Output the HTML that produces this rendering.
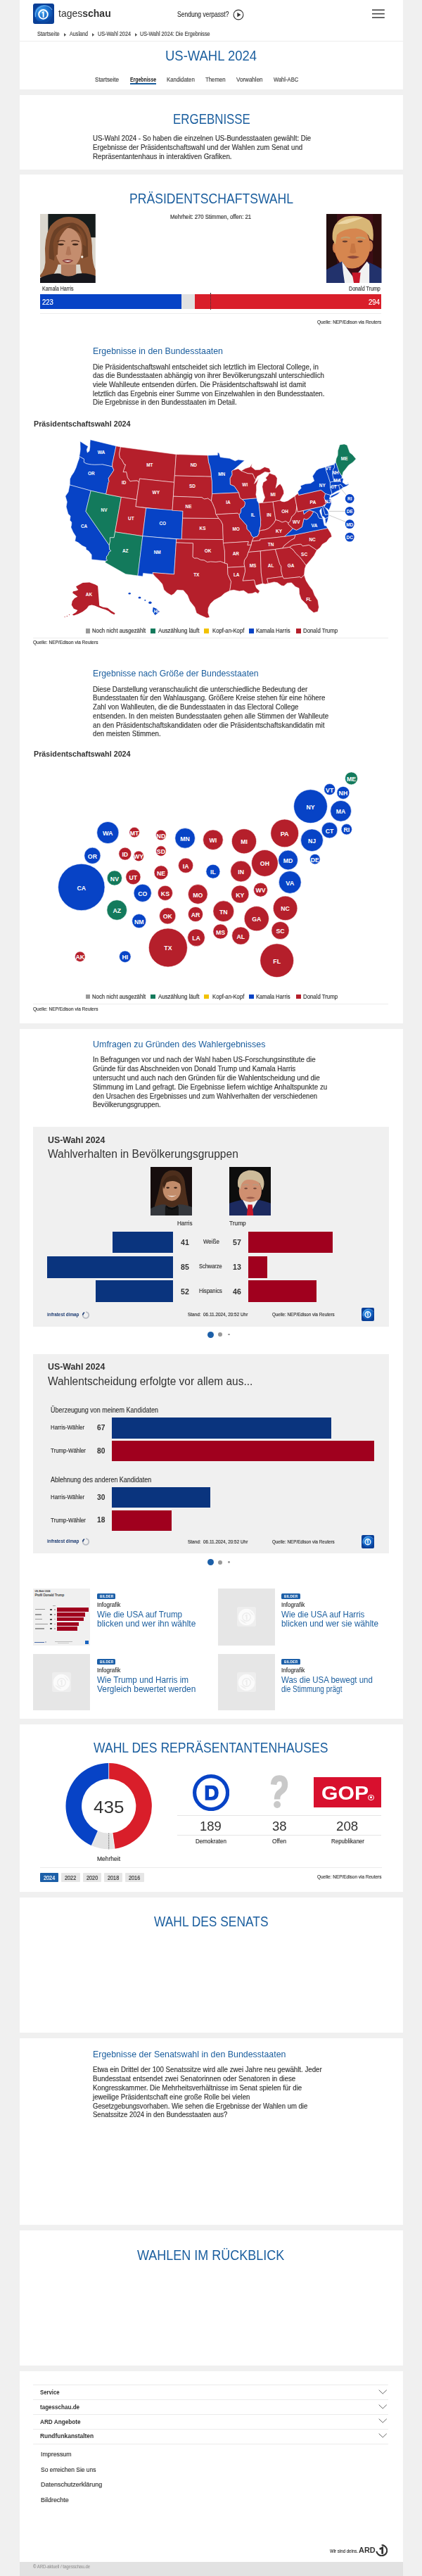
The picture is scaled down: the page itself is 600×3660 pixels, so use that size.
<!DOCTYPE html>
<html><head><meta charset="utf-8">
<style>
*{box-sizing:border-box;margin:0;padding:0}
html,body{width:600px;height:3660px;overflow:hidden;background:#f0f0f0;font-family:"Liberation Sans",sans-serif;color:#333}
.a{position:absolute}
.card{position:absolute;left:27.5px;width:545px;background:#fff}
.t{position:absolute;white-space:nowrap;-webkit-text-stroke:0.16px currentColor}
.blue{color:#1b5e9e}
.h2{font-size:19px;color:#1b5e9e;letter-spacing:0.2px}
.body{font-size:9.4px;line-height:12.6px;color:#333}
.sub{font-size:12.5px;color:#1b5e9e}
</style></head><body>
<!-- HEADER -->
<div class="card" style="top:0;height:126.8px"></div>
<div id="logo" class="a" style="left:47.1px;top:4.7px;width:30px;height:29.7px;border-radius:3px;background:#0a3f96;overflow:hidden">
  <svg width="30" height="30" viewBox="0 0 30 30" style="position:absolute;left:0;top:0">
    <defs><radialGradient id="lg" cx="0.4" cy="0.35" r="0.7"><stop offset="0" stop-color="#45a6f0"></stop><stop offset="0.6" stop-color="#1466c8"></stop><stop offset="1" stop-color="#0a3f96"></stop></radialGradient></defs>
    <circle cx="15" cy="15" r="13" fill="url(#lg)"></circle>
    <path d="M3.5 19 Q2 8 12 4 Q22 1 27 9" stroke="#8fd0ff" stroke-width="1.2" fill="none" opacity="0.7"></path>
    <path d="M6 25 Q17 28 25 19" stroke="#0a3f96" stroke-width="1.5" fill="none" opacity="0.6"></path>
    <circle cx="14.5" cy="15.4" r="6.3" fill="none" stroke="#fff" stroke-width="2"></circle>
    <path d="M12.6 12.3 L15.6 10.8 L15.6 19.8 L13.7 19.8 L13.7 13.6 L12.6 14.1 Z" fill="#fff"></path>
  </svg>
</div>
<div class="t" style="-webkit-text-stroke: 0px; left: 82.8px; font-size: 15px; color: rgb(51, 51, 51); top: 10.4px; transform: scaleX(0.933); transform-origin: 0px 0px;">tages<b>schau</b></div>
<div class="t" style="left: 251.9px; font-size: 10px; color: rgb(51, 51, 51); top: 14.8px; transform: scaleX(0.8518); transform-origin: 0px 0px;">Sendung verpasst?</div>
<svg class="a" style="left:330.5px;top:12.5px" width="16" height="16" viewBox="0 0 16 16"><circle cx="8" cy="8" r="6.9" fill="none" stroke="#333" stroke-width="1.1"></circle><path d="M6.3 4.7 L11.5 8 L6.3 11.3 Z" fill="#333"></path></svg>
<svg class="a" style="left:529px;top:13px" width="18" height="13" viewBox="0 0 18 13"><rect x="0" y="0.4" width="17.8" height="1.6" fill="#444"></rect><rect x="0" y="5.8" width="17.8" height="1.6" fill="#444"></rect><rect x="0" y="11.1" width="17.8" height="1.6" fill="#444"></rect></svg>
<div class="t" style="left: 53.4px; font-size: 8.25px; color: rgb(68, 68, 68); top: 44.4px; transform: scaleX(0.9094); transform-origin: 0px 0px;">Startseite</div>
<div class="t" style="left: 98.9px; font-size: 8.25px; color: rgb(68, 68, 68); top: 44.4px; transform: scaleX(0.8717); transform-origin: 0px 0px;">Ausland</div>
<div class="t" style="left: 138.5px; font-size: 8.25px; color: rgb(68, 68, 68); top: 44.4px; transform: scaleX(0.8811); transform-origin: 0px 0px;">US-Wahl 2024</div>
<div class="t" style="left: 198.6px; font-size: 8.25px; color: rgb(68, 68, 68); top: 44.4px; transform: scaleX(0.8746); transform-origin: 0px 0px;">US-Wahl 2024: Die Ergebnisse</div>
<svg class="a" style="left:90.8px;top:46.5px" width="4" height="5"><path d="M0 0 L3.2 2.4 L0 4.8Z" fill="#555"></path></svg>
<svg class="a" style="left:131px;top:46.5px" width="4" height="5"><path d="M0 0 L3.2 2.4 L0 4.8Z" fill="#555"></path></svg>
<svg class="a" style="left:192px;top:46.5px" width="4" height="5"><path d="M0 0 L3.2 2.4 L0 4.8Z" fill="#555"></path></svg>
<div class="a" style="left:27.5px;top:58px;width:545px;height:1px;background:#ededed"></div>
<div class="t" style="-webkit-text-stroke: 0px; left: 235.2px; font-size: 19.8px; color: rgb(27, 94, 158); top: 67.8px; transform: scaleX(0.9335); transform-origin: 0px 0px;">US-WAHL 2024</div>
<div class="t" style="left: 135.2px; font-size: 8.58px; color: rgb(68, 68, 68); top: 108px; transform: scaleX(0.9407); transform-origin: 0px 0px;">Startseite</div>
<div class="t" style="-webkit-text-stroke: 0px; left: 184.5px; font-size: 8.19px; color: rgb(34, 34, 34); font-weight: bold; top: 109px; transform: scaleX(0.842); transform-origin: 0px 0px;">Ergebnisse</div>
<div class="a" style="left:184.5px;top:118px;width:37.1px;height:1.6px;background:#1b5e9e"></div>
<div class="t" style="left: 236.8px; font-size: 8.58px; color: rgb(68, 68, 68); top: 108px; transform: scaleX(0.9169); transform-origin: 0px 0px;">Kandidaten</div>
<div class="t" style="left: 292px; font-size: 8.58px; color: rgb(68, 68, 68); top: 108px; transform: scaleX(0.9088); transform-origin: 0px 0px;">Themen</div>
<div class="t" style="left: 335.7px; font-size: 8.58px; color: rgb(68, 68, 68); top: 108px; transform: scaleX(0.9385); transform-origin: 0px 0px;">Vorwahlen</div>
<div class="t" style="left: 388.8px; font-size: 8.58px; color: rgb(68, 68, 68); top: 108px; transform: scaleX(0.8859); transform-origin: 0px 0px;">Wahl-ABC</div>

<!-- CARD 1 -->
<div class="card" style="top:134.9px;height:105.7px"></div>
<div class="t" style="-webkit-text-stroke: 0px; left: 245.6px; font-size: 20.8px; color: rgb(27, 94, 158); top: 157px; transform: scaleX(0.8127); transform-origin: 0px 0px;">ERGEBNISSE</div>
<div class="t" style="left: 131.8px; font-size: 10.2px; top: 191px; transform: scaleX(0.9438); transform-origin: 0px 0px;">US-Wahl 2024 - So haben die einzelnen US-Bundesstaaten gewählt: Die</div>
<div class="t" style="left: 131.8px; font-size: 10.2px; top: 203.8px; transform: scaleX(0.9516); transform-origin: 0px 0px;">Ergebnisse der Präsidentschaftswahl und der Wahlen zum Senat und</div>
<div class="t" style="left: 131.8px; font-size: 10.2px; top: 216.5px; transform: scaleX(0.9666); transform-origin: 0px 0px;">Repräsentantenhaus in interaktiven Grafiken.</div>

<!-- CARD 2 -->
<div class="card" style="top:248.4px;height:1205.4px"></div>
<div class="t" style="-webkit-text-stroke: 0px; left: 183.9px; font-size: 20.1px; color: rgb(27, 94, 158); top: 270.6px; transform: scaleX(0.876); transform-origin: 0px 0px;">PRÄSIDENTSCHAFTSWAHL</div>
<div class="t" style="left: 242.4px; font-size: 8.47px; color: rgb(51, 51, 51); top: 302.8px; transform: scaleX(0.921); transform-origin: 0px 0px;">Mehrheit: 270 Stimmen, offen: 21</div>
<svg class="a" style="left:57.1px;top:303.6px" width="78.8" height="98.4" viewBox="60 48 277 345" preserveAspectRatio="none">
 <defs><filter id="bl1" x="-5%" y="-5%" width="110%" height="110%"><feGaussianBlur stdDeviation="2.5"></feGaussianBlur></filter><clipPath id="cp1"><rect x="60" y="48" width="277" height="345"></rect></clipPath></defs>
 <g clip-path="url(#cp1)" filter="url(#bl1)">
 <rect x="40" y="30" width="320" height="380" fill="#dbd7ce"></rect>
 <rect x="100" y="30" width="260" height="135" fill="#151d1a"></rect>
 <path d="M110 110 Q150 62 205 62 Q272 66 302 120 Q322 170 320 240 Q322 300 340 335 L340 400 L298 400 Q262 350 260 300 L150 300 Q140 350 95 375 L55 360 Q92 322 86 262 Q78 172 110 110Z" fill="#8c5636"></path>
 <path d="M130 130 Q170 88 225 92 Q282 105 298 175 L300 260 L275 270 L270 160 Q240 120 190 122 Q150 135 140 200 L130 280 L105 270 Q100 180 130 130Z" fill="#6b3f26"></path>
 <ellipse cx="202" cy="218" rx="66" ry="100" fill="#c48d6e"></ellipse>
 <path d="M125 200 Q135 120 215 102 Q178 128 160 165 Q148 195 148 250 L130 260Z" fill="#7c4a2c"></path>
 <path d="M238 105 Q290 130 290 210 L272 200 Q268 140 238 105Z" fill="#7c4a2c"></path>
 <ellipse cx="164" cy="200" rx="15" ry="5" fill="#3a2418"></ellipse><ellipse cx="236" cy="200" rx="15" ry="5" fill="#3a2418"></ellipse>
 <path d="M146 186 Q165 175 185 184 M216 184 Q236 175 256 186" stroke="#5a3422" stroke-width="5" fill="none"></path>
 <path d="M196 210 L188 250 Q202 258 216 250 L208 210Z" fill="#b07658"></path>
 <path d="M170 280 Q198 266 226 280 Q198 305 170 280Z" fill="#8a3838"></path>
 <path d="M178 282 Q198 276 218 282 Q198 290 178 282Z" fill="#efe2da"></path>
 <circle cx="270" cy="262" r="6" fill="#f4efe6"></circle>
 <rect x="165" y="300" width="75" height="60" fill="#b37c5f"></rect>
 <path d="M50 400 L50 372 Q108 340 160 345 Q202 372 245 345 Q300 338 345 360 L345 400Z" fill="#18181a"></path>
 </g>
</svg>
<svg class="a" style="left:464.1px;top:303.6px" width="78.5" height="98.4" viewBox="67 48 276 345" preserveAspectRatio="none">
 <defs><filter id="bl2" x="-5%" y="-5%" width="110%" height="110%"><feGaussianBlur stdDeviation="2.5"></feGaussianBlur></filter><clipPath id="cp2"><rect x="67" y="48" width="276" height="345"></rect></clipPath></defs>
 <g clip-path="url(#cp2)" filter="url(#bl2)">
 <rect x="50" y="30" width="310" height="380" fill="#3c0c15"></rect>
 <rect x="50" y="30" width="70" height="380" fill="#23070b"></rect>
 <rect x="300" y="30" width="60" height="380" fill="#2e0a10"></rect>
 <ellipse cx="112" cy="215" rx="14" ry="28" fill="#c77a4c"></ellipse><ellipse cx="286" cy="208" rx="14" ry="28" fill="#c77a4c"></ellipse>
 <ellipse cx="196" cy="208" rx="90" ry="112" fill="#d6864f"></ellipse>
 <path d="M98 175 Q90 92 160 62 Q232 48 282 80 Q308 112 300 182 L284 172 Q272 128 216 120 Q150 120 120 152 L112 200Z" fill="#d8b676"></path>
 <path d="M120 100 Q165 64 250 66 Q210 84 170 96Z" fill="#ecd6a4"></path>
 <path d="M140 170 Q160 160 185 168 M215 168 Q240 160 262 172" stroke="#bfa070" stroke-width="8" fill="none"></path>
 <ellipse cx="160" cy="185" rx="13" ry="5" fill="#6b4030"></ellipse><ellipse cx="236" cy="185" rx="13" ry="5" fill="#6b4030"></ellipse>
 <path d="M192 195 L184 240 Q200 250 216 240 L208 195Z" fill="#c67443"></path>
 <path d="M170 262 Q200 250 232 262 Q200 280 170 262Z" fill="#8e4a3a"></path>
 <path d="M50 400 L50 335 Q105 305 145 285 L205 365 L270 285 Q312 302 360 330 L360 400Z" fill="#22306c"></path>
 <path d="M145 285 L205 368 L270 285 L282 300 L282 400 L160 400 Q150 340 145 285Z" fill="#f1f1f1"></path>
 <path d="M195 340 L238 340 L232 395 L205 395Z" fill="#c8162c"></path>
 </g>
</svg>
<div class="t" style="left: 59.5px; font-size: 8.8px; color: rgb(51, 51, 51); top: 404.8px; transform: scaleX(0.7984); transform-origin: 0px 0px;">Kamala Harris</div>
<div class="t" style="left: 495.7px; font-size: 8.8px; color: rgb(51, 51, 51); top: 404.8px; transform: scaleX(0.8106); transform-origin: 0px 0px;">Donald Trump</div>
<div class="a" style="left:57.1px;top:418.2px;width:201.3px;height:21.3px;background:#0743c6"></div>
<div class="a" style="left:258.4px;top:418.2px;width:18.5px;height:21.3px;background:#e1e1e1"></div>
<div class="a" style="left:276.9px;top:418.2px;width:265.5px;height:21.3px;background:#d91e2a"></div>
<div class="a" style="left:299px;top:416px;width:0;height:23.5px;border-left:1px dotted #333"></div>
<div class="t" style="left: 59.5px; font-size: 11px; color: rgb(255, 255, 255); top: 422.9px; transform: scaleX(0.866); transform-origin: 0px 0px;">223</div>
<div class="t" style="left: 523.5px; font-size: 11px; color: rgb(255, 255, 255); top: 422.9px; transform: scaleX(0.8769); transform-origin: 0px 0px;">294</div>
<div class="a" style="left:57.1px;top:445px;width:485.3px;height:1px;background:#ececec"></div>
<div class="t" style="left: 451.2px; font-size: 8.03px; color: rgb(51, 51, 51); top: 452.5px; transform: scaleX(0.8028); transform-origin: 0px 0px;">Quelle: NEP/Edison via Reuters</div>

<div class="t" style="-webkit-text-stroke: 0px; left: 132.2px; font-size: 12.9px; color: rgb(27, 94, 158); top: 491.2px; transform: scaleX(0.9596); transform-origin: 0px 0px;">Ergebnisse in den Bundesstaaten</div>
<div class="t" style="left: 132.1px; font-size: 10.2px; top: 515.6px; transform: scaleX(0.9608); transform-origin: 0px 0px;">Die Präsidentschaftswahl entscheidet sich letztlich im Electoral College, in</div>
<div class="t" style="left: 132.1px; font-size: 10.2px; top: 528.3px; transform: scaleX(0.9539); transform-origin: 0px 0px;">das die Bundesstaaten abhängig von ihrer Bevölkerungszahl unterschiedlich</div>
<div class="t" style="left: 132.1px; font-size: 10.2px; top: 541px; transform: scaleX(0.9723); transform-origin: 0px 0px;">viele Wahlleute entsenden dürfen. Die Präsidentschaftswahl ist damit</div>
<div class="t" style="left: 132.1px; font-size: 10.2px; top: 553.7px; transform: scaleX(0.952); transform-origin: 0px 0px;">letztlich das Ergebnis einer Summe von Einzelwahlen in den Bundesstaaten.</div>
<div class="t" style="left: 132.1px; font-size: 10.2px; top: 566.4px; transform: scaleX(0.9487); transform-origin: 0px 0px;">Die Ergebnisse in den Bundesstaaten im Detail.</div>
<div class="t" style="-webkit-text-stroke: 0px; left: 47.6px; font-size: 11.7px; font-weight: bold; color: rgb(51, 51, 51); top: 594.9px; transform: scaleX(0.9209); transform-origin: 0px 0px;">Präsidentschaftswahl 2024</div>
<svg class="a" style="left:0;top:600px" width="600" height="300" viewBox="0 600 600 300"><g stroke="#fff" stroke-width="0.55" stroke-linejoin="round"><path d="M113.9 626.9 L120.5 631.3 L125.3 634.2 L123.3 638.8 L124.2 643.1 L127.0 640.8 L127.9 634.9 L127.9 629.7 L128.3 624.7 L165.1 633.7 L159.8 658.7 L159.7 663.0 L145.7 659.9 L143.4 660.1 L134.7 660.3 L129.7 660.1 L122.8 658.8 L119.3 656.8 L119.5 652.2 L117.0 650.9 L112.7 648.4 L113.8 642.2 L114.2 638.2 L114.0 631.9Z" fill="#0743c6"></path>
<path d="M112.7 648.4 L117.0 650.9 L119.5 652.2 L119.3 656.8 L122.8 658.8 L129.7 660.1 L134.7 660.3 L143.4 660.1 L145.7 659.9 L159.7 663.0 L161.9 667.9 L157.4 674.8 L154.2 679.3 L155.1 684.6 L154.1 685.6 L150.7 702.1 L129.2 697.2 L99.2 689.0 L99.4 680.7 L101.5 676.1 L105.0 670.9 L108.0 664.5 L110.8 655.9 L112.6 651.2Z" fill="#0743c6"></path>
<path d="M99.2 689.0 L129.2 697.2 L122.0 726.5 L155.3 774.7 L155.4 776.8 L155.7 780.9 L158.0 782.6 L155.3 784.1 L153.6 788.6 L151.7 790.3 L151.1 794.3 L152.7 796.1 L150.4 797.0 L130.2 794.9 L130.1 788.1 L126.1 783.1 L122.4 780.7 L122.2 777.8 L116.8 775.3 L111.1 770.8 L106.6 768.7 L107.8 762.2 L103.9 756.1 L100.8 749.0 L101.6 746.1 L101.8 742.0 L99.3 739.2 L100.1 733.2 L96.9 730.2 L94.1 720.0 L95.3 713.1 L92.9 705.0 L97.1 698.9 L98.4 692.0Z" fill="#0743c6"></path>
<path d="M129.2 697.2 L150.7 702.1 L172.4 706.3 L162.1 763.8 L156.4 763.9 L156.6 768.8 L155.3 774.7 L122.0 726.5Z" fill="#137a5c"></path>
<path d="M165.1 633.7 L171.5 635.0 L169.5 644.9 L170.6 650.8 L173.1 652.9 L176.7 659.8 L178.6 660.1 L175.1 670.6 L179.7 670.5 L181.5 678.7 L185.1 683.8 L188.7 683.1 L195.1 682.8 L197.8 685.2 L194.2 709.8 L172.4 706.3 L150.7 702.1 L154.1 685.6 L155.1 684.6 L154.2 679.3 L157.4 674.8 L161.9 667.9 L159.7 663.0 L159.8 658.7Z" fill="#b51f2b"></path>
<path d="M171.5 635.0 L250.4 645.5 L247.7 685.3 L198.5 680.1 L197.8 685.2 L195.1 682.8 L188.7 683.1 L185.1 683.8 L181.5 678.7 L179.7 670.5 L175.1 670.6 L178.6 660.1 L176.7 659.8 L173.1 652.9 L170.6 650.8 L169.5 644.9Z" fill="#b51f2b"></path>
<path d="M198.5 680.1 L247.7 685.3 L245.0 725.3 L192.8 719.8Z" fill="#b51f2b"></path>
<path d="M172.4 706.3 L194.2 709.8 L192.8 719.8 L207.7 721.8 L202.8 761.7 L163.6 755.8Z" fill="#b51f2b"></path>
<path d="M207.7 721.8 L260.0 726.1 L258.2 766.3 L202.8 761.7Z" fill="#0743c6"></path>
<path d="M163.6 755.8 L202.8 761.7 L195.9 818.0 L178.7 815.7 L149.3 799.1 L150.4 797.0 L152.7 796.1 L151.1 794.3 L151.7 790.3 L153.6 788.6 L155.3 784.1 L158.0 782.6 L155.7 780.9 L155.4 776.8 L155.3 774.7 L156.6 768.8 L156.4 763.9 L162.1 763.8Z" fill="#137a5c"></path>
<path d="M202.8 761.7 L250.7 765.9 L250.4 770.9 L247.6 815.9 L217.2 813.6 L217.8 815.9 L203.6 814.4 L203.0 818.9 L195.9 818.0Z" fill="#0743c6"></path>
<path d="M250.4 645.5 L295.6 646.9 L296.6 656.8 L298.3 661.7 L300.1 670.7 L300.5 677.2 L248.3 675.9Z" fill="#b51f2b"></path>
<path d="M248.3 675.9 L300.5 677.2 L301.4 683.6 L301.7 701.6 L300.5 711.7 L295.6 708.1 L290.4 709.1 L286.8 706.7 L246.4 705.2Z" fill="#b51f2b"></path>
<path d="M246.4 705.2 L286.8 706.7 L290.4 709.1 L295.6 708.1 L300.5 711.7 L302.6 715.7 L304.6 720.7 L306.2 724.6 L306.6 729.7 L307.3 730.9 L311.0 736.6 L259.6 736.2 L260.0 726.1 L245.0 725.3Z" fill="#b51f2b"></path>
<path d="M259.6 736.2 L311.0 736.6 L313.8 739.5 L316.6 745.0 L317.3 766.6 L258.2 766.3Z" fill="#b51f2b"></path>
<path d="M250.7 765.9 L317.3 766.6 L319.4 782.6 L319.6 800.2 L313.6 797.8 L307.0 798.5 L299.5 798.1 L294.5 798.6 L290.4 796.1 L285.4 795.6 L280.5 793.1 L276.4 793.2 L273.9 791.3 L274.4 771.9 L250.4 770.9Z" fill="#b51f2b"></path>
<path d="M217.2 813.6 L247.6 815.9 L250.4 770.9 L274.4 771.9 L273.9 791.3 L276.4 793.2 L280.5 793.1 L285.4 795.6 L290.4 796.1 L294.5 798.6 L299.5 798.1 L307.0 798.5 L313.6 797.8 L319.6 800.2 L323.3 801.0 L323.6 806.3 L324.0 816.4 L326.3 821.3 L328.6 826.2 L327.7 833.2 L326.7 839.2 L319.3 843.0 L314.2 847.6 L304.5 852.8 L299.3 857.8 L296.2 863.8 L295.8 870.7 L298.1 877.1 L294.0 878.1 L284.8 874.1 L279.4 871.1 L276.8 862.7 L269.9 854.1 L266.5 845.6 L260.6 838.8 L251.9 838.3 L247.2 843.8 L243.6 845.8 L237.6 842.2 L233.1 837.9 L230.7 829.8 L225.1 823.4 L220.3 818.9 L217.8 815.9Z" fill="#b51f2b"></path>
<path d="M295.6 646.9 L309.4 646.6 L309.3 642.9 L311.5 643.6 L313.2 649.5 L320.6 650.6 L326.6 651.3 L334.3 654.8 L338.9 653.0 L347.7 654.2 L331.7 667.9 L329.8 669.0 L330.1 674.5 L327.2 679.7 L327.4 688.2 L333.2 690.8 L339.5 699.9 L301.7 701.6 L301.4 683.6 L300.5 677.2 L300.1 670.7 L298.3 661.7 L296.6 656.8Z" fill="#0743c6"></path>
<path d="M301.7 701.6 L339.5 699.9 L341.3 707.4 L344.4 709.5 L348.3 713.3 L348.4 716.4 L347.1 720.0 L342.8 722.9 L342.4 727.9 L340.2 731.3 L338.0 729.2 L307.3 730.9 L306.6 729.7 L306.2 724.6 L304.6 720.7 L302.6 715.7 L300.5 711.7Z" fill="#b51f2b"></path>
<path d="M307.3 730.9 L338.0 729.2 L340.2 731.3 L340.7 735.1 L344.0 738.9 L347.4 742.7 L350.8 746.4 L351.2 751.4 L356.4 757.0 L357.6 761.0 L360.6 763.7 L358.3 769.0 L357.2 774.1 L351.8 774.6 L353.2 769.4 L317.4 771.6 L317.3 766.6 L316.6 745.0 L313.8 739.5 L311.0 736.6Z" fill="#b51f2b"></path>
<path d="M344.4 709.5 L365.2 707.7 L365.7 711.6 L368.1 715.4 L370.8 738.9 L370.5 741.4 L370.7 746.5 L368.5 754.8 L368.4 757.9 L366.1 762.1 L360.6 763.7 L357.6 761.0 L356.4 757.0 L351.2 751.4 L350.8 746.4 L347.4 742.7 L344.0 738.9 L340.7 735.1 L340.2 731.3 L342.4 727.9 L342.8 722.9 L347.1 720.0 L348.4 716.4 L348.3 713.3Z" fill="#0743c6"></path>
<path d="M368.0 714.8 L388.1 712.8 L391.9 738.7 L389.5 743.1 L384.7 748.3 L381.8 750.7 L376.6 752.9 L371.9 753.4 L368.5 754.8 L370.7 746.5 L370.5 741.4 L370.8 738.9Z" fill="#b51f2b"></path>
<path d="M388.1 712.8 L398.1 711.0 L400.9 712.4 L404.1 712.9 L409.1 711.5 L413.2 708.7 L419.1 704.8 L421.6 718.0 L421.6 721.5 L420.9 727.7 L417.4 732.0 L415.0 733.9 L412.6 740.5 L409.9 743.0 L406.3 740.5 L401.1 742.1 L396.0 739.6 L391.9 738.7Z" fill="#b51f2b"></path>
<path d="M358.3 769.0 L369.9 767.8 L369.7 766.0 L393.9 763.5 L404.5 762.2 L409.9 757.3 L414.1 753.5 L416.2 750.7 L410.3 745.3 L409.9 743.0 L406.3 740.5 L401.1 742.1 L396.0 739.6 L391.9 738.7 L389.5 743.1 L384.7 748.3 L381.8 750.7 L376.6 752.9 L371.9 753.4 L368.5 754.8 L368.4 757.9 L366.1 762.1 L360.6 763.7Z" fill="#b51f2b"></path>
<path d="M353.1 784.5 L370.3 782.9 L391.4 780.4 L401.7 778.9 L403.8 775.5 L407.5 772.4 L414.0 767.3 L418.5 765.0 L420.2 759.7 L404.5 762.2 L393.9 763.5 L369.7 766.0 L369.9 767.8 L358.3 769.0 L357.2 774.1 L355.5 778.3Z" fill="#b51f2b"></path>
<path d="M317.4 771.6 L353.2 769.4 L351.8 774.6 L357.2 774.1 L355.5 778.3 L353.1 784.5 L351.2 790.7 L347.5 796.0 L347.1 801.1 L347.8 805.0 L323.6 806.3 L323.3 801.0 L319.6 800.2 L319.4 782.6Z" fill="#b51f2b"></path>
<path d="M370.3 782.9 L353.1 784.5 L351.2 790.7 L347.5 796.0 L347.1 801.1 L347.8 805.0 L348.6 811.0 L346.7 819.1 L345.0 825.3 L361.4 824.0 L363.3 832.0 L373.5 829.0 L371.3 814.0Z" fill="#b51f2b"></path>
<path d="M323.6 806.3 L347.8 805.0 L348.6 811.0 L346.7 819.1 L345.0 825.3 L361.4 824.0 L363.3 832.0 L364.4 835.2 L369.3 839.7 L367.0 843.4 L363.2 841.3 L359.0 843.1 L352.8 843.6 L346.3 839.1 L340.3 840.0 L332.3 838.3 L326.7 839.2 L327.7 833.2 L328.6 826.2 L326.3 821.3 L324.0 816.4Z" fill="#b51f2b"></path>
<path d="M370.3 782.9 L391.4 780.4 L397.8 801.7 L399.7 804.5 L399.9 811.5 L401.8 819.3 L379.7 822.1 L381.3 828.9 L377.1 830.1 L373.5 829.0 L371.3 814.0Z" fill="#b51f2b"></path>
<path d="M391.4 780.4 L401.7 778.9 L411.5 777.3 L416.3 780.6 L420.5 786.0 L426.7 792.0 L432.2 799.1 L435.1 803.2 L433.4 808.0 L432.5 817.1 L428.0 821.2 L426.4 819.7 L403.5 822.1 L401.8 819.3 L399.9 811.5 L399.7 804.5 L397.8 801.7Z" fill="#b51f2b"></path>
<path d="M379.7 822.1 L401.8 819.3 L403.5 822.1 L426.4 819.7 L428.0 821.2 L432.5 817.1 L435.2 824.9 L440.3 833.1 L444.5 838.3 L447.3 845.8 L451.9 853.0 L453.4 862.7 L451.8 869.0 L446.0 870.6 L438.8 864.5 L436.0 859.0 L428.2 851.3 L425.6 843.7 L425.1 835.8 L419.9 833.6 L414.5 827.9 L408.4 828.4 L403.7 832.6 L400.1 832.1 L394.3 827.8 L389.8 826.9 L381.3 828.9Z" fill="#b51f2b"></path>
<path d="M411.5 777.3 L416.9 774.4 L427.9 773.0 L430.4 775.8 L439.4 774.3 L450.5 781.7 L446.5 789.2 L441.8 795.3 L437.6 800.2 L435.1 803.2 L432.2 799.1 L426.7 792.0 L420.5 786.0 L416.3 780.6Z" fill="#b51f2b"></path>
<path d="M401.7 778.9 L411.5 777.3 L416.9 774.4 L427.9 773.0 L430.4 775.8 L439.4 774.3 L450.5 781.7 L455.2 778.1 L458.4 773.3 L464.3 769.8 L468.1 764.8 L471.7 762.4 L470.6 758.0 L465.9 750.4 L420.2 759.7 L418.5 765.0 L414.0 767.3 L407.5 772.4 L403.8 775.5Z" fill="#b51f2b"></path>
<path d="M404.5 762.2 L420.2 759.7 L465.9 750.4 L463.9 747.2 L461.3 746.8 L460.1 741.9 L459.3 737.0 L453.9 736.2 L452.7 734.4 L451.3 730.1 L447.5 727.3 L445.2 726.6 L444.8 728.7 L442.1 733.2 L438.1 737.1 L435.2 738.2 L432.1 736.8 L430.6 743.3 L429.3 748.7 L424.2 751.9 L421.3 753.2 L416.2 750.7 L414.1 753.5 L409.9 757.3Z" fill="#0743c6"></path>
<path d="M466.9 734.8 L462.1 736.8 L463.1 744.8 L465.5 740.6Z" fill="#0743c6"></path>
<path d="M421.6 718.0 L423.3 727.1 L431.2 725.5 L432.2 730.7 L436.1 727.3 L439.9 724.9 L445.2 726.6 L444.8 728.7 L442.1 733.2 L438.1 737.1 L435.2 738.2 L432.1 736.8 L430.6 743.3 L429.3 748.7 L424.2 751.9 L421.3 753.2 L416.2 750.7 L410.3 745.3 L409.9 743.0 L412.6 740.5 L415.0 733.9 L417.4 732.0 L420.9 727.7 L421.6 721.5Z" fill="#b51f2b"></path>
<path d="M431.2 725.5 L458.7 719.3 L462.4 731.5 L467.3 730.3 L466.9 734.8 L462.1 736.8 L460.8 734.6 L458.0 733.2 L457.0 727.2 L456.9 722.0 L454.6 725.7 L455.3 728.6 L457.2 733.3 L459.3 737.0 L453.9 736.2 L452.7 734.4 L451.3 730.1 L447.5 727.3 L445.2 726.6 L439.9 724.9 L436.1 727.3 L432.2 730.7Z" fill="#0743c6"></path>
<path d="M458.7 719.3 L460.5 717.6 L460.8 720.1 L463.4 722.5 L466.5 726.9 L467.3 730.3 L462.4 731.5Z" fill="#0743c6"></path>
<path d="M419.1 704.8 L424.0 700.8 L424.5 703.5 L456.3 696.3 L458.6 697.8 L462.6 701.3 L461.0 707.0 L462.5 711.3 L465.5 713.1 L463.0 716.4 L460.5 717.6 L458.7 719.3 L423.3 727.1 L421.6 718.0Z" fill="#b51f2b"></path>
<path d="M462.6 701.3 L469.4 703.3 L469.3 705.9 L468.1 708.8 L470.3 709.3 L471.1 715.8 L469.3 721.0 L467.3 725.4 L465.8 722.9 L462.2 721.2 L460.8 720.1 L463.0 716.4 L465.5 713.1 L462.5 711.3 L461.0 707.0Z" fill="#0743c6"></path>
<path d="M424.5 703.5 L423.5 698.6 L428.2 693.5 L427.1 690.2 L434.3 687.4 L441.6 686.7 L446.7 683.2 L444.4 676.5 L449.7 668.5 L453.5 666.0 L462.7 663.4 L463.7 668.4 L466.8 676.9 L469.4 685.1 L469.5 692.3 L471.9 700.5 L471.1 702.8 L469.4 703.3 L462.6 701.3 L458.6 697.8 L456.3 696.3Z" fill="#0743c6"></path>
<path d="M469.7 707.4 L472.6 706.6 L480.0 702.4 L484.0 698.5 L478.0 700.9 L470.5 704.5Z" fill="#0743c6"></path>
<path d="M469.5 692.3 L481.6 689.2 L483.3 696.0 L478.7 697.9 L474.7 700.3 L471.1 702.8 L471.9 700.5Z" fill="#0743c6"></path>
<path d="M481.6 689.2 L484.6 688.3 L486.8 691.0 L488.0 692.8 L483.3 696.0Z" fill="#0743c6"></path>
<path d="M469.5 692.3 L469.4 685.1 L475.0 683.7 L483.2 681.6 L486.1 678.9 L488.3 680.6 L487.0 685.2 L491.5 688.5 L495.2 687.9 L493.9 685.1 L495.1 686.4 L495.9 688.7 L492.6 690.8 L488.0 692.8 L486.8 691.0 L484.6 688.3 L481.6 689.2Z" fill="#0743c6"></path>
<path d="M462.7 663.4 L475.2 659.8 L475.7 664.0 L473.5 667.7 L473.0 675.2 L475.0 683.7 L469.4 685.1 L466.8 676.9 L463.7 668.4Z" fill="#0743c6"></path>
<path d="M475.2 659.8 L477.3 656.2 L482.1 670.4 L486.3 676.7 L486.1 678.9 L483.2 681.6 L475.0 683.7 L473.0 675.2 L473.5 667.7 L475.7 664.0Z" fill="#0743c6"></path>
<path d="M477.3 656.2 L478.0 651.8 L480.1 647.0 L480.3 640.6 L483.1 631.9 L489.4 630.9 L493.5 632.4 L497.3 643.1 L501.1 645.9 L506.2 652.0 L501.8 656.7 L495.7 660.9 L490.4 667.8 L487.9 670.7 L486.3 676.7 L482.1 670.4Z" fill="#137a5c"></path>
<path d="M331.7 667.9 L338.5 665.9 L342.9 668.9 L352.2 672.6 L359.3 673.0 L362.1 679.3 L363.7 681.6 L361.5 687.4 L364.7 684.0 L367.8 679.6 L364.6 689.6 L364.7 696.6 L363.9 702.7 L365.2 707.7 L344.4 709.5 L341.3 707.4 L339.5 699.9 L333.2 690.8 L327.4 688.2 L327.2 679.7 L330.1 674.5 L329.8 669.0Z" fill="#b51f2b"></path>
<path d="M373.3 714.2 L388.1 712.8 L398.1 711.0 L400.1 707.4 L403.6 701.2 L403.3 697.2 L401.2 691.5 L398.3 687.4 L395.4 689.4 L392.0 693.5 L393.7 685.6 L394.1 679.4 L391.3 675.3 L382.7 672.1 L381.4 675.3 L377.6 678.9 L379.5 682.1 L374.2 685.4 L372.8 691.6 L374.2 699.5 L376.6 706.8Z" fill="#b51f2b"></path>
<path d="M342.9 668.9 L348.8 665.6 L355.5 663.4 L358.4 658.6 L357.5 663.2 L362.9 667.6 L369.8 667.3 L376.2 663.4 L382.8 665.5 L384.8 669.8 L383.0 671.6 L376.5 670.5 L370.6 674.2 L366.0 676.8 L363.7 681.6 L362.1 679.3 L359.3 673.0 L352.2 672.6Z" fill="#b51f2b"></path></g><path d="M108.1 833.2 L117.7 828.1 L127.3 827.5 L135.9 830.7 L139.1 832.8 L141.2 860.5 L146.5 862.7 L152.9 863.7 L158.2 868.0 L163.6 871.2 L162.5 873.3 L158.2 871.2 L154.0 868.0 L149.7 865.9 L145.4 864.8 L140.1 862.7 L134.8 860.5 L130.5 859.5 L126.3 860.5 L123.1 864.8 L117.7 869.1 L111.3 872.2 L104.9 874.4 L102.8 873.3 L108.1 870.1 L110.3 866.9 L104.9 864.8 L101.7 859.5 L102.8 854.1 L106.0 849.9 L110.3 847.7 L107.1 845.2 L103.2 842.4 L103.9 840.3 L108.1 839.6 L111.3 838.1 L109.2 835.4Z" fill="#b51f2b"></path>
<circle cx="98.5" cy="873.3" r="0.6" fill="#b51f2b"></circle>
<circle cx="95.3" cy="875.4" r="0.6" fill="#b51f2b"></circle>
<circle cx="92.1" cy="876.5" r="0.6" fill="#b51f2b"></circle>
<ellipse cx="184.2" cy="843.2" rx="1.7" ry="1.3" fill="#0743c6"></ellipse>
<ellipse cx="198.5" cy="849.2" rx="1.8" ry="1.4" fill="#0743c6"></ellipse>
<ellipse cx="206.3" cy="852.8" rx="1.1" ry="0.9" fill="#0743c6"></ellipse>
<ellipse cx="213.4" cy="856.3" rx="2.2" ry="1.7" fill="#0743c6"></ellipse>
<path d="M217.7 862.7 L222.6 864.9 L226.9 869.1 L220.5 874.1 L216.9 868.4Z" fill="#0743c6"></path><g font-family="Liberation Sans, sans-serif" font-size="7.5" font-weight="bold" fill="#fff" text-anchor="middle">
<text x="144" y="644.9" textLength="10.75" lengthAdjust="spacingAndGlyphs">WA</text>
<text x="129.8" y="674.8" textLength="9.68" lengthAdjust="spacingAndGlyphs">OR</text>
<text x="176.1" y="688.4" textLength="6.45" lengthAdjust="spacingAndGlyphs">ID</text>
<text x="212.8" y="662.8" textLength="9.31" lengthAdjust="spacingAndGlyphs">MT</text>
<text x="275.3" y="663.4" textLength="9.32" lengthAdjust="spacingAndGlyphs">ND</text>
<text x="273.4" y="693.2" textLength="8.96" lengthAdjust="spacingAndGlyphs">SD</text>
<text x="315.2" y="676.2" textLength="10.03" lengthAdjust="spacingAndGlyphs">MN</text>
<text x="221.8" y="702.3" textLength="10.39" lengthAdjust="spacingAndGlyphs">WY</text>
<text x="186.3" y="739.0" textLength="8.60" lengthAdjust="spacingAndGlyphs">UT</text>
<text x="231.3" y="745.8" textLength="9.68" lengthAdjust="spacingAndGlyphs">CO</text>
<text x="268.1" y="722.2" textLength="8.96" lengthAdjust="spacingAndGlyphs">NE</text>
<text x="288" y="752.6" textLength="8.96" lengthAdjust="spacingAndGlyphs">KS</text>
<text x="489.6" y="654.1" textLength="9.68" lengthAdjust="spacingAndGlyphs">ME</text>
<text x="466.8" y="667.5" textLength="8.24" lengthAdjust="spacingAndGlyphs">VT</text>
<text x="476.8" y="674.0" textLength="9.32" lengthAdjust="spacingAndGlyphs">NH</text>
<text x="458.3" y="691.9" textLength="8.96" lengthAdjust="spacingAndGlyphs">NY</text>
<text x="479.6" y="685.4" textLength="10.03" lengthAdjust="spacingAndGlyphs">MA</text>
<text x="474.5" y="693.9" textLength="8.60" lengthAdjust="spacingAndGlyphs">CT</text>
<text x="444.9" y="715.6" textLength="8.96" lengthAdjust="spacingAndGlyphs">PA</text>
<text x="466" y="715.1" textLength="8.25" lengthAdjust="spacingAndGlyphs">NJ</text>
<text x="405.1" y="729.3" textLength="9.68" lengthAdjust="spacingAndGlyphs">OH</text>
<text x="421.3" y="743.5" textLength="10.39" lengthAdjust="spacingAndGlyphs">WV</text>
<text x="446.9" y="749.2" textLength="8.96" lengthAdjust="spacingAndGlyphs">VA</text>
<text x="444.1" y="769.1" textLength="9.32" lengthAdjust="spacingAndGlyphs">NC</text>
<text x="385.1" y="775.7" textLength="8.60" lengthAdjust="spacingAndGlyphs">TN</text>
<text x="432.6" y="790.0" textLength="8.96" lengthAdjust="spacingAndGlyphs">SC</text>
<text x="385.1" y="805.6" textLength="8.60" lengthAdjust="spacingAndGlyphs">AL</text>
<text x="413.6" y="805.6" textLength="9.68" lengthAdjust="spacingAndGlyphs">GA</text>
<text x="439.1" y="853.9" textLength="7.88" lengthAdjust="spacingAndGlyphs">FL</text>
<text x="295.5" y="784.8" textLength="9.68" lengthAdjust="spacingAndGlyphs">OK</text>
<text x="335.3" y="789.1" textLength="9.32" lengthAdjust="spacingAndGlyphs">AR</text>
<text x="359.5" y="805.6" textLength="9.68" lengthAdjust="spacingAndGlyphs">MS</text>
<text x="279.3" y="819.0" textLength="8.24" lengthAdjust="spacingAndGlyphs">TX</text>
<text x="336.2" y="819.0" textLength="8.60" lengthAdjust="spacingAndGlyphs">LA</text>
<text x="148.1" y="726.9" textLength="8.96" lengthAdjust="spacingAndGlyphs">NV</text>
<text x="119.6" y="749.7" textLength="9.32" lengthAdjust="spacingAndGlyphs">CA</text>
<text x="178.2" y="784.5" textLength="8.60" lengthAdjust="spacingAndGlyphs">AZ</text>
<text x="223.7" y="786.8" textLength="10.03" lengthAdjust="spacingAndGlyphs">NM</text>
<text x="126.5" y="847.1" textLength="9.32" lengthAdjust="spacingAndGlyphs">AK</text>
<text x="222" y="870.9" textLength="6.45" lengthAdjust="spacingAndGlyphs">HI</text>
<text x="348.3" y="691.1" textLength="7.88" lengthAdjust="spacingAndGlyphs">WI</text>
<text x="388.1" y="705.3" textLength="7.16" lengthAdjust="spacingAndGlyphs">MI</text>
<text x="324.4" y="715.5" textLength="6.45" lengthAdjust="spacingAndGlyphs">IA</text>
<text x="359.6" y="733.7" textLength="5.73" lengthAdjust="spacingAndGlyphs">IL</text>
<text x="382.4" y="733.7" textLength="6.45" lengthAdjust="spacingAndGlyphs">IN</text>
<text x="335.7" y="753.6" textLength="10.39" lengthAdjust="spacingAndGlyphs">MO</text>
<text x="396.6" y="756.5" textLength="8.96" lengthAdjust="spacingAndGlyphs">KY</text>
</g><g stroke="#999" stroke-width="0.5" fill="none">
<line x1="492.5" y1="703.5" x2="482" y2="691"></line>
<line x1="490.8" y1="726.4" x2="468" y2="726.4"></line>
<line x1="491.5" y1="741.5" x2="468" y2="732"></line>
</g>
<g fill="#0743c6">
<circle cx="497.2" cy="708.5" r="6.4"></circle>
<circle cx="497.2" cy="726.4" r="6.4"></circle>
<circle cx="497.2" cy="744.6" r="6.4"></circle>
<circle cx="497.2" cy="763.1" r="6.4"></circle>
</g><g font-family="Liberation Sans, sans-serif" font-size="7.5" font-weight="bold" fill="#fff" text-anchor="middle">
<text x="497.2" y="711.4" textLength="6.45" lengthAdjust="spacingAndGlyphs">RI</text>
<text x="497.2" y="729.3" textLength="8.96" lengthAdjust="spacingAndGlyphs">DE</text>
<text x="497.2" y="747.5" textLength="10.03" lengthAdjust="spacingAndGlyphs">MD</text>
<text x="497.2" y="766.0" textLength="9.32" lengthAdjust="spacingAndGlyphs">DC</text>
</g></svg>
<div class="a" style="left:121.5px;top:892.9px;width:6.8px;height:6.8px;background:#999"></div>
<div class="t" style="left: 130.9px; font-size: 8.36px; color: rgb(51, 51, 51); top: 891.3px; transform: scaleX(0.9268); transform-origin: 0px 0px;">Noch nicht ausgezählt</div>
<div class="a" style="left:214.3px;top:892.9px;width:6.8px;height:6.8px;background:#137a5c"></div>
<div class="t" style="left: 224.7px; font-size: 8.36px; color: rgb(51, 51, 51); top: 891.3px; transform: scaleX(0.9465); transform-origin: 0px 0px;">Auszählung läuft</div>
<div class="a" style="left:290.4px;top:892.9px;width:6.8px;height:6.8px;background:#f2c200"></div>
<div class="t" style="left: 301.6px; font-size: 8.36px; color: rgb(51, 51, 51); top: 891.3px; transform: scaleX(0.9213); transform-origin: 0px 0px;">Kopf-an-Kopf</div>
<div class="a" style="left:354.2px;top:892.9px;width:6.8px;height:6.8px;background:#0743c6"></div>
<div class="t" style="left: 364.1px; font-size: 8.36px; color: rgb(51, 51, 51); top: 891.3px; transform: scaleX(0.9175); transform-origin: 0px 0px;">Kamala Harris</div>
<div class="a" style="left:421px;top:892.9px;width:6.8px;height:6.8px;background:#b51f2b"></div>
<div class="t" style="left: 430.9px; font-size: 8.36px; color: rgb(51, 51, 51); top: 891.3px; transform: scaleX(0.935); transform-origin: 0px 0px;">Donald Trump</div>

<div class="a" style="left:47px;top:906px;width:505px;height:1px;background:#ececec"></div>
<div class="t" style="left: 47.1px; font-size: 8.03px; color: rgb(51, 51, 51); top: 907.8px; transform: scaleX(0.8133); transform-origin: 0px 0px;">Quelle: NEP/Edison via Reuters</div>

<div class="t" style="-webkit-text-stroke: 0px; left: 132.2px; font-size: 12.9px; color: rgb(27, 94, 158); top: 948.9px; transform: scaleX(0.9506); transform-origin: 0px 0px;">Ergebnisse nach Größe der Bundesstaaten</div>
<div class="t" style="left: 132.1px; font-size: 10.2px; top: 973.7px; transform: scaleX(0.9641); transform-origin: 0px 0px;">Diese Darstellung veranschaulicht die unterschiedliche Bedeutung der</div>
<div class="t" style="left: 132.1px; font-size: 10.2px; top: 986.4px; transform: scaleX(0.9509); transform-origin: 0px 0px;">Bundesstaaten für den Wahlausgang. Größere Kreise stehen für eine höhere</div>
<div class="t" style="left: 132.1px; font-size: 10.2px; top: 999.1px; transform: scaleX(0.9468); transform-origin: 0px 0px;">Zahl von Wahlleuten, die die Bundesstaaten in das Electoral College</div>
<div class="t" style="left: 132.1px; font-size: 10.2px; top: 1011.8px; transform: scaleX(0.96); transform-origin: 0px 0px;">entsenden. In den meisten Bundesstaaten gehen alle Stimmen der Wahlleute</div>
<div class="t" style="left: 132.1px; font-size: 10.2px; top: 1024.5px; transform: scaleX(0.9694); transform-origin: 0px 0px;">an den Präsidentschaftskandidaten oder die Präsidentschaftskandidatin mit</div>
<div class="t" style="left: 132.1px; font-size: 10.2px; top: 1037.2px; transform: scaleX(0.954); transform-origin: 0px 0px;">den meisten Stimmen.</div>
<div class="t" style="-webkit-text-stroke: 0px; left: 47.6px; font-size: 11.7px; font-weight: bold; color: rgb(51, 51, 51); top: 1063.7px; transform: scaleX(0.9209); transform-origin: 0px 0px;">Präsidentschaftswahl 2024</div>
<svg class="a" style="left:0;top:1080px" width="600" height="320" viewBox="0 1080 600 320">
<circle cx="153.3" cy="1183" r="15.6" fill="#0743c6" stroke="#fff" stroke-width="0.6"></circle>
<circle cx="191.1" cy="1182.6" r="7.3" fill="#b51f2b" stroke="#fff" stroke-width="0.6"></circle>
<circle cx="131.4" cy="1215.7" r="11.6" fill="#0743c6" stroke="#fff" stroke-width="0.6"></circle>
<circle cx="177.8" cy="1213.1" r="9" fill="#b51f2b" stroke="#fff" stroke-width="0.6"></circle>
<circle cx="197.1" cy="1216.4" r="7.3" fill="#b51f2b" stroke="#fff" stroke-width="0.6"></circle>
<circle cx="115.8" cy="1260.5" r="33.2" fill="#0743c6" stroke="#fff" stroke-width="0.6"></circle>
<circle cx="162.9" cy="1247.5" r="10.6" fill="#137a5c" stroke="#fff" stroke-width="0.6"></circle>
<circle cx="189.4" cy="1246.1" r="10.6" fill="#b51f2b" stroke="#fff" stroke-width="0.6"></circle>
<circle cx="228.9" cy="1186.5" r="7.3" fill="#b51f2b" stroke="#fff" stroke-width="0.6"></circle>
<circle cx="263.1" cy="1190.9" r="14.3" fill="#0743c6" stroke="#fff" stroke-width="0.6"></circle>
<circle cx="302.9" cy="1193.2" r="14.3" fill="#b51f2b" stroke="#fff" stroke-width="0.6"></circle>
<circle cx="347" cy="1195.3" r="17.6" fill="#b51f2b" stroke="#fff" stroke-width="0.6"></circle>
<circle cx="228.9" cy="1209.1" r="7.3" fill="#b51f2b" stroke="#fff" stroke-width="0.6"></circle>
<circle cx="264.1" cy="1229.7" r="10.6" fill="#b51f2b" stroke="#fff" stroke-width="0.6"></circle>
<circle cx="302.9" cy="1238.2" r="10" fill="#0743c6" stroke="#fff" stroke-width="0.6"></circle>
<circle cx="229" cy="1239.8" r="10" fill="#b51f2b" stroke="#fff" stroke-width="0.6"></circle>
<circle cx="342.6" cy="1238" r="14.9" fill="#b51f2b" stroke="#fff" stroke-width="0.6"></circle>
<circle cx="404.7" cy="1183.9" r="19.9" fill="#b51f2b" stroke="#fff" stroke-width="0.6"></circle>
<circle cx="443.5" cy="1193.8" r="15.9" fill="#0743c6" stroke="#fff" stroke-width="0.6"></circle>
<circle cx="447.8" cy="1220.7" r="7.3" fill="#0743c6" stroke="#fff" stroke-width="0.6"></circle>
<circle cx="376.4" cy="1226.4" r="18.9" fill="#b51f2b" stroke="#fff" stroke-width="0.6"></circle>
<circle cx="409.6" cy="1222" r="13.9" fill="#0743c6" stroke="#fff" stroke-width="0.6"></circle>
<circle cx="412.3" cy="1253.5" r="15.9" fill="#0743c6" stroke="#fff" stroke-width="0.6"></circle>
<circle cx="499.5" cy="1105.9" r="9" fill="#137a5c" stroke="#fff" stroke-width="0.6"></circle>
<circle cx="468.7" cy="1121.5" r="8" fill="#0743c6" stroke="#fff" stroke-width="0.6"></circle>
<circle cx="487.9" cy="1126.4" r="9" fill="#0743c6" stroke="#fff" stroke-width="0.6"></circle>
<circle cx="441.5" cy="1145.7" r="23.9" fill="#0743c6" stroke="#fff" stroke-width="0.6"></circle>
<circle cx="484.6" cy="1152.3" r="14.9" fill="#0743c6" stroke="#fff" stroke-width="0.6"></circle>
<circle cx="468.5" cy="1179.6" r="11.3" fill="#0743c6" stroke="#fff" stroke-width="0.6"></circle>
<circle cx="492.8" cy="1178.3" r="7.7" fill="#0743c6" stroke="#fff" stroke-width="0.6"></circle>
<circle cx="202.7" cy="1268.8" r="12.6" fill="#0743c6" stroke="#fff" stroke-width="0.6"></circle>
<circle cx="166.2" cy="1293" r="14.3" fill="#137a5c" stroke="#fff" stroke-width="0.6"></circle>
<circle cx="197.7" cy="1308.6" r="10" fill="#0743c6" stroke="#fff" stroke-width="0.6"></circle>
<circle cx="234.9" cy="1268.8" r="10.6" fill="#b51f2b" stroke="#fff" stroke-width="0.6"></circle>
<circle cx="281.3" cy="1270.5" r="13.9" fill="#b51f2b" stroke="#fff" stroke-width="0.6"></circle>
<circle cx="341.3" cy="1270.5" r="12.6" fill="#b51f2b" stroke="#fff" stroke-width="0.6"></circle>
<circle cx="238.2" cy="1301.3" r="11.6" fill="#b51f2b" stroke="#fff" stroke-width="0.6"></circle>
<circle cx="278" cy="1299" r="10.6" fill="#b51f2b" stroke="#fff" stroke-width="0.6"></circle>
<circle cx="317.8" cy="1294.7" r="14.9" fill="#b51f2b" stroke="#fff" stroke-width="0.6"></circle>
<circle cx="313.5" cy="1323.5" r="10.6" fill="#b51f2b" stroke="#fff" stroke-width="0.6"></circle>
<circle cx="370.5" cy="1264.2" r="10" fill="#b51f2b" stroke="#fff" stroke-width="0.6"></circle>
<circle cx="405.6" cy="1290.4" r="17.3" fill="#b51f2b" stroke="#fff" stroke-width="0.6"></circle>
<circle cx="364.8" cy="1305.2" r="17.6" fill="#b51f2b" stroke="#fff" stroke-width="0.6"></circle>
<circle cx="398.5" cy="1322" r="12.6" fill="#b51f2b" stroke="#fff" stroke-width="0.6"></circle>
<circle cx="342.3" cy="1329.5" r="12.6" fill="#b51f2b" stroke="#fff" stroke-width="0.6"></circle>
<circle cx="238.9" cy="1346.4" r="27.5" fill="#b51f2b" stroke="#fff" stroke-width="0.6"></circle>
<circle cx="279" cy="1332.2" r="12.3" fill="#b51f2b" stroke="#fff" stroke-width="0.6"></circle>
<circle cx="393.7" cy="1364.7" r="23.9" fill="#b51f2b" stroke="#fff" stroke-width="0.6"></circle>
<circle cx="113.8" cy="1359.2" r="7.3" fill="#b51f2b" stroke="#fff" stroke-width="0.6"></circle>
<circle cx="177.8" cy="1359.2" r="8.3" fill="#0743c6" stroke="#fff" stroke-width="0.6"></circle>
<g font-family="Liberation Sans, sans-serif" font-size="9.4" font-weight="bold" fill="#fff" text-anchor="middle">
<text x="153.3" y="1187.0" textLength="14.56" lengthAdjust="spacingAndGlyphs">WA</text>
<text x="191.1" y="1186.6" textLength="12.62" lengthAdjust="spacingAndGlyphs">MT</text>
<text x="131.4" y="1219.7" textLength="13.11" lengthAdjust="spacingAndGlyphs">OR</text>
<text x="177.8" y="1217.1" textLength="8.74" lengthAdjust="spacingAndGlyphs">ID</text>
<text x="197.1" y="1220.4" textLength="14.08" lengthAdjust="spacingAndGlyphs">WY</text>
<text x="115.8" y="1264.5" textLength="12.63" lengthAdjust="spacingAndGlyphs">CA</text>
<text x="162.9" y="1251.5" textLength="12.14" lengthAdjust="spacingAndGlyphs">NV</text>
<text x="189.4" y="1250.1" textLength="11.65" lengthAdjust="spacingAndGlyphs">UT</text>
<text x="228.9" y="1190.5" textLength="12.63" lengthAdjust="spacingAndGlyphs">ND</text>
<text x="263.1" y="1194.9" textLength="13.60" lengthAdjust="spacingAndGlyphs">MN</text>
<text x="302.9" y="1197.2" textLength="10.68" lengthAdjust="spacingAndGlyphs">WI</text>
<text x="347" y="1199.3" textLength="9.71" lengthAdjust="spacingAndGlyphs">MI</text>
<text x="228.9" y="1213.1" textLength="12.14" lengthAdjust="spacingAndGlyphs">SD</text>
<text x="264.1" y="1233.7" textLength="8.74" lengthAdjust="spacingAndGlyphs">IA</text>
<text x="302.9" y="1242.2" textLength="7.77" lengthAdjust="spacingAndGlyphs">IL</text>
<text x="229" y="1243.8" textLength="12.14" lengthAdjust="spacingAndGlyphs">NE</text>
<text x="342.6" y="1242.0" textLength="8.74" lengthAdjust="spacingAndGlyphs">IN</text>
<text x="404.7" y="1187.9" textLength="12.14" lengthAdjust="spacingAndGlyphs">PA</text>
<text x="443.5" y="1197.8" textLength="11.18" lengthAdjust="spacingAndGlyphs">NJ</text>
<text x="447.8" y="1224.7" textLength="12.14" lengthAdjust="spacingAndGlyphs">DE</text>
<text x="376.4" y="1230.4" textLength="13.11" lengthAdjust="spacingAndGlyphs">OH</text>
<text x="409.6" y="1226.0" textLength="13.60" lengthAdjust="spacingAndGlyphs">MD</text>
<text x="412.3" y="1257.5" textLength="12.14" lengthAdjust="spacingAndGlyphs">VA</text>
<text x="499.5" y="1109.9" textLength="13.11" lengthAdjust="spacingAndGlyphs">ME</text>
<text x="468.7" y="1125.5" textLength="11.17" lengthAdjust="spacingAndGlyphs">VT</text>
<text x="487.9" y="1130.4" textLength="12.63" lengthAdjust="spacingAndGlyphs">NH</text>
<text x="441.5" y="1149.7" textLength="12.14" lengthAdjust="spacingAndGlyphs">NY</text>
<text x="484.6" y="1156.3" textLength="13.60" lengthAdjust="spacingAndGlyphs">MA</text>
<text x="468.5" y="1183.6" textLength="11.65" lengthAdjust="spacingAndGlyphs">CT</text>
<text x="492.8" y="1182.3" textLength="8.74" lengthAdjust="spacingAndGlyphs">RI</text>
<text x="202.7" y="1272.8" textLength="13.11" lengthAdjust="spacingAndGlyphs">CO</text>
<text x="166.2" y="1297.0" textLength="11.65" lengthAdjust="spacingAndGlyphs">AZ</text>
<text x="197.7" y="1312.6" textLength="13.60" lengthAdjust="spacingAndGlyphs">NM</text>
<text x="234.9" y="1272.8" textLength="12.14" lengthAdjust="spacingAndGlyphs">KS</text>
<text x="281.3" y="1274.5" textLength="14.08" lengthAdjust="spacingAndGlyphs">MO</text>
<text x="341.3" y="1274.5" textLength="12.14" lengthAdjust="spacingAndGlyphs">KY</text>
<text x="238.2" y="1305.3" textLength="13.11" lengthAdjust="spacingAndGlyphs">OK</text>
<text x="278" y="1303.0" textLength="12.63" lengthAdjust="spacingAndGlyphs">AR</text>
<text x="317.8" y="1298.7" textLength="11.65" lengthAdjust="spacingAndGlyphs">TN</text>
<text x="313.5" y="1327.5" textLength="13.11" lengthAdjust="spacingAndGlyphs">MS</text>
<text x="370.5" y="1268.2" textLength="14.08" lengthAdjust="spacingAndGlyphs">WV</text>
<text x="405.6" y="1294.4" textLength="12.63" lengthAdjust="spacingAndGlyphs">NC</text>
<text x="364.8" y="1309.2" textLength="13.11" lengthAdjust="spacingAndGlyphs">GA</text>
<text x="398.5" y="1326.0" textLength="12.14" lengthAdjust="spacingAndGlyphs">SC</text>
<text x="342.3" y="1333.5" textLength="11.65" lengthAdjust="spacingAndGlyphs">AL</text>
<text x="238.9" y="1350.4" textLength="11.17" lengthAdjust="spacingAndGlyphs">TX</text>
<text x="279" y="1336.2" textLength="11.65" lengthAdjust="spacingAndGlyphs">LA</text>
<text x="393.7" y="1368.7" textLength="10.68" lengthAdjust="spacingAndGlyphs">FL</text>
<text x="113.8" y="1363.2" textLength="12.63" lengthAdjust="spacingAndGlyphs">AK</text>
<text x="177.8" y="1363.2" textLength="8.74" lengthAdjust="spacingAndGlyphs">HI</text>
</g></svg>
<div class="a" style="left:121.5px;top:1412.6px;width:6.8px;height:6.8px;background:#999"></div>
<div class="t" style="left: 130.9px; font-size: 8.36px; color: rgb(51, 51, 51); top: 1411px; transform: scaleX(0.9268); transform-origin: 0px 0px;">Noch nicht ausgezählt</div>
<div class="a" style="left:214.3px;top:1412.6px;width:6.8px;height:6.8px;background:#137a5c"></div>
<div class="t" style="left: 224.7px; font-size: 8.36px; color: rgb(51, 51, 51); top: 1411px; transform: scaleX(0.9465); transform-origin: 0px 0px;">Auszählung läuft</div>
<div class="a" style="left:290.4px;top:1412.6px;width:6.8px;height:6.8px;background:#f2c200"></div>
<div class="t" style="left: 301.6px; font-size: 8.36px; color: rgb(51, 51, 51); top: 1411px; transform: scaleX(0.9213); transform-origin: 0px 0px;">Kopf-an-Kopf</div>
<div class="a" style="left:354.2px;top:1412.6px;width:6.8px;height:6.8px;background:#0743c6"></div>
<div class="t" style="left: 364.1px; font-size: 8.36px; color: rgb(51, 51, 51); top: 1411px; transform: scaleX(0.9175); transform-origin: 0px 0px;">Kamala Harris</div>
<div class="a" style="left:421px;top:1412.6px;width:6.8px;height:6.8px;background:#b51f2b"></div>
<div class="t" style="left: 430.9px; font-size: 8.36px; color: rgb(51, 51, 51); top: 1411px; transform: scaleX(0.935); transform-origin: 0px 0px;">Donald Trump</div>

<div class="a" style="left:47px;top:1425.5px;width:505px;height:1px;background:#ececec"></div>
<div class="t" style="left: 47.1px; font-size: 8.03px; color: rgb(51, 51, 51); top: 1429.3px; transform: scaleX(0.8133); transform-origin: 0px 0px;">Quelle: NEP/Edison via Reuters</div>

<!-- CARD 3 -->
<div class="card" style="top:1461.7px;height:980.7px"></div>
<div class="t" style="-webkit-text-stroke: 0px; left: 132.2px; font-size: 12.9px; color: rgb(27, 94, 158); top: 1476.2px; transform: scaleX(0.9666); transform-origin: 0px 0px;">Umfragen zu Gründen des Wahlergebnisses</div>
<div class="t" style="left: 132.1px; font-size: 10.2px; top: 1500.4px; transform: scaleX(0.9567); transform-origin: 0px 0px;">In Befragungen vor und nach der Wahl haben US-Forschungsinstitute die</div>
<div class="t" style="left: 132.1px; font-size: 10.2px; top: 1513.2px; transform: scaleX(0.953); transform-origin: 0px 0px;">Gründe für das Abschneiden von Donald Trump und Kamala Harris</div>
<div class="t" style="left: 132.1px; font-size: 10.2px; top: 1526px; transform: scaleX(0.9684); transform-origin: 0px 0px;">untersucht und auch nach den Gründen für die Wahlentscheidung und die</div>
<div class="t" style="left: 132.1px; font-size: 10.2px; top: 1538.8px; transform: scaleX(0.9664); transform-origin: 0px 0px;">Stimmung im Land gefragt. Die Ergebnisse liefern wichtige Anhaltspunkte zu</div>
<div class="t" style="left: 132.1px; font-size: 10.2px; top: 1551.6px; transform: scaleX(0.9449); transform-origin: 0px 0px;">den Ursachen des Ergebnisses und zum Wahlverhalten der verschiedenen</div>
<div class="t" style="left: 132.1px; font-size: 10.2px; top: 1564.4px; transform: scaleX(0.9495); transform-origin: 0px 0px;">Bevölkerungsgruppen.</div>

<div class="a" style="left:47.1px;top:1601.4px;width:505.6px;height:283.3px;background:#f0f0f0"></div>
<div class="t" style="-webkit-text-stroke: 0px; left: 67.6px; font-size: 12px; font-weight: bold; color: rgb(51, 51, 51); top: 1612.6px; transform: scaleX(1.0301); transform-origin: 0px 0px;">US-Wahl 2024</div>
<div class="t" style="-webkit-text-stroke: 0px; left: 67.6px; font-size: 16px; color: rgb(51, 51, 51); top: 1631.4px; transform: scaleX(0.9717); transform-origin: 0px 0px;">Wahlverhalten in Bevölkerungsgruppen</div>
<svg class="a" style="left:214.2px;top:1657.9px" width="59.3" height="69.2" viewBox="0 0 125 145" preserveAspectRatio="none">
 <defs><filter id="bl3" x="-5%" y="-5%" width="110%" height="110%"><feGaussianBlur stdDeviation="1.6"></feGaussianBlur></filter><clipPath id="cp3"><rect width="125" height="145"></rect></clipPath></defs>
 <g clip-path="url(#cp3)" filter="url(#bl3)">
 <rect x="-10" y="-10" width="145" height="165" fill="#141110"></rect>
 <path d="M32 38 Q42 10 66 10 Q94 10 102 42 Q106 80 114 118 L96 122 L28 122 L12 118 Q24 80 32 38Z" fill="#4e2f1e"></path>
 <ellipse cx="64" cy="66" rx="27" ry="35" fill="#c28c6a"></ellipse>
 <path d="M36 48 Q48 22 76 26 Q94 38 94 58 L88 50 Q70 36 48 46 L40 66Z" fill="#3f2516"></path>
 <ellipse cx="52" cy="62" rx="5" ry="2.2" fill="#2a1810"></ellipse><ellipse cx="75" cy="62" rx="5" ry="2.2" fill="#2a1810"></ellipse>
 <path d="M50 84 Q64 94 78 84 Q64 89 50 84Z" fill="#fafafa"></path>
 <path d="M0 124 Q28 110 44 112 Q64 128 84 112 Q102 110 135 124 L135 155 L-10 155Z" fill="#34373c"></path>
 <path d="M44 118 Q64 132 84 118 L84 155 L44 155Z" fill="#121212"></path>
 <path d="M46 116 Q64 132 82 116" stroke="#0a0a0a" stroke-width="4" fill="none"></path>
 </g>
</svg>
<svg class="a" style="left:325.6px;top:1657.9px" width="59.2" height="69.2" viewBox="0 0 125 145" preserveAspectRatio="none">
 <defs><filter id="bl4" x="-5%" y="-5%" width="110%" height="110%"><feGaussianBlur stdDeviation="1.6"></feGaussianBlur></filter><clipPath id="cp4"><rect width="125" height="145"></rect></clipPath></defs>
 <g clip-path="url(#cp4)" filter="url(#bl4)">
 <rect x="-10" y="-10" width="145" height="165" fill="#0b0b0b"></rect>
 <ellipse cx="63" cy="72" rx="34" ry="40" fill="#cf8f70"></ellipse>
 <path d="M26 58 Q20 18 58 10 Q98 8 104 42 Q106 58 99 70 L92 50 Q80 36 52 38 Q36 42 33 66Z" fill="#cdbb9a"></path>
 <path d="M40 55 Q50 50 58 54 M70 54 Q78 50 88 55" stroke="#b89a80" stroke-width="3" fill="none"></path>
 <ellipse cx="50" cy="64" rx="5" ry="2.2" fill="#6a4234"></ellipse><ellipse cx="77" cy="64" rx="5" ry="2.2" fill="#6a4234"></ellipse>
 <path d="M50 92 Q63 86 78 92 Q63 98 50 92Z" fill="#9a5a4a"></path>
 <path d="M-10 112 Q22 100 40 98 L62 136 L86 98 Q104 100 135 112 L135 155 L-10 155Z" fill="#1e2b5e"></path>
 <path d="M40 98 L62 140 L86 98 Q62 112 40 98Z" fill="#f0f0f0"></path>
 <path d="M56 112 L69 112 L73 150 L52 150Z" fill="#c4182c"></path>
 </g>
</svg>
<div class="t" style="left: 252.1px; font-size: 8.25px; color: rgb(51, 51, 51); top: 1734.3px; transform: scaleX(0.9727); transform-origin: 0px 0px;">Harris</div>
<div class="t" style="left: 325.6px; font-size: 8.25px; color: rgb(51, 51, 51); top: 1734.3px; transform: scaleX(1.0072); transform-origin: 0px 0px;">Trump</div>
<div class="a" style="left:159.9px;top:1749.7px;width:86.5px;height:30.8px;background:#0a347e"></div>
<div class="a" style="left:67px;top:1784.9px;width:179.4px;height:30.8px;background:#0a347e"></div>
<div class="a" style="left:136.2px;top:1819.2px;width:110.2px;height:30.8px;background:#0a347e"></div>
<div class="a" style="left:352.6px;top:1749.7px;width:120.3px;height:30.8px;background:#a0001e"></div>
<div class="a" style="left:352.6px;top:1784.9px;width:27.4px;height:30.8px;background:#a0001e"></div>
<div class="a" style="left:352.6px;top:1819.2px;width:97.1px;height:30.8px;background:#a0001e"></div>
<div class="t" style="-webkit-text-stroke: 0px; left: 256.9px; font-size: 10px; font-weight: bold; color: rgb(51, 51, 51); top: 1759.8px; transform: scaleX(1.0607); transform-origin: 0px 0px;">41</div>
<div class="t" style="-webkit-text-stroke: 0px; left: 256.9px; font-size: 10px; font-weight: bold; color: rgb(51, 51, 51); top: 1794.9px; transform: scaleX(1.0607); transform-origin: 0px 0px;">85</div>
<div class="t" style="-webkit-text-stroke: 0px; left: 256.9px; font-size: 10px; font-weight: bold; color: rgb(51, 51, 51); top: 1829.5px; transform: scaleX(1.0607); transform-origin: 0px 0px;">52</div>
<div class="t" style="-webkit-text-stroke: 0px; left: 331.3px; font-size: 10px; font-weight: bold; color: rgb(51, 51, 51); top: 1759.8px; transform: scaleX(1.0607); transform-origin: 0px 0px;">57</div>
<div class="t" style="-webkit-text-stroke: 0px; left: 331.3px; font-size: 10px; font-weight: bold; color: rgb(51, 51, 51); top: 1794.9px; transform: scaleX(1.0607); transform-origin: 0px 0px;">13</div>
<div class="t" style="-webkit-text-stroke: 0px; left: 331.3px; font-size: 10px; font-weight: bold; color: rgb(51, 51, 51); top: 1829.5px; transform: scaleX(1.0607); transform-origin: 0px 0px;">46</div>
<div class="t" style="left: 288.6px; font-size: 8.25px; color: rgb(51, 51, 51); top: 1760.4px; transform: scaleX(0.9625); transform-origin: 0px 0px;">Weiße</div>
<div class="t" style="left: 283.4px; font-size: 8.25px; color: rgb(51, 51, 51); top: 1795.4px; transform: scaleX(0.9025); transform-origin: 0px 0px;">Schwarze</div>
<div class="t" style="left: 283.4px; font-size: 8.25px; color: rgb(51, 51, 51); top: 1830.2px; transform: scaleX(0.9143); transform-origin: 0px 0px;">Hispanics</div>
<div class="t" style="-webkit-text-stroke: 0px; left: 66.5px; font-size: 7.35px; font-weight: bold; color: rgb(31, 61, 115); top: 1862.6px; transform: scaleX(0.8644); transform-origin: 0px 0px;">infratest dimap</div>
<svg class="a" style="left:115.8px;top:1862.6px" width="12" height="11" viewBox="0 0 12 11"><path d="M6 1.2 A4.3 4.3 0 1 1 1.7 5.5" stroke="#b8bcc4" stroke-width="1.8" fill="none"></path><path d="M1.7 5.5 A4.3 4.3 0 0 1 4 1.7" stroke="#1f3d73" stroke-width="1.8" fill="none"></path></svg>
<div class="t" style="left: 266.8px; font-size: 6.93px; color: rgb(51, 51, 51); top: 1863.6px; transform: scaleX(0.9248); transform-origin: 0px 0px;">Stand: &nbsp;06.11.2024, 20:52 Uhr</div>
<div class="t" style="left: 387px; font-size: 6.93px; color: rgb(51, 51, 51); top: 1863.6px; transform: scaleX(0.9041); transform-origin: 0px 0px;">Quelle: NEP/Edison via Reuters</div>
<div class="a" style="left:513.6px;top:1857.8px;width:18.6px;height:19px;border-radius:2px;background:#0a3f96;overflow:hidden"><svg width="18.6" height="19" viewBox="0 0 30 30" preserveAspectRatio="none" style="position:absolute;left:0;top:0"><circle cx="15" cy="15" r="13" fill="url(#lg)"></circle><path d="M3.5 19 Q2 8 12 4 Q22 1 27 9" stroke="#8fd0ff" stroke-width="1.2" fill="none" opacity="0.7"></path><circle cx="14.5" cy="15.4" r="6.3" fill="none" stroke="#fff" stroke-width="2.2"></circle><path d="M12.6 12.3 L15.6 10.8 L15.6 19.8 L13.7 19.8 L13.7 13.6 L12.6 14.1 Z" fill="#fff"></path></svg></div><div class="a" style="left:295.3px;top:1891.5px;width:9.2px;height:9.2px;border-radius:50%;background:#1c5fa8"></div>
<div class="a" style="left:309.9px;top:1893.1999999999998px;width:5.8px;height:5.8px;border-radius:50%;background:#999"></div>
<div class="a" style="left:324.3px;top:1894.6999999999998px;width:2.8px;height:2.8px;border-radius:50%;background:#999"></div>

<div class="a" style="left:47.1px;top:1923.5px;width:505.6px;height:283.4px;background:#f0f0f0"></div>
<div class="t" style="-webkit-text-stroke: 0px; left: 67.6px; font-size: 12px; font-weight: bold; color: rgb(51, 51, 51); top: 1935.3px; transform: scaleX(1.0301); transform-origin: 0px 0px;">US-Wahl 2024</div>
<div class="t" style="-webkit-text-stroke: 0px; left: 67.6px; font-size: 16px; color: rgb(51, 51, 51); top: 1954.2px; transform: scaleX(0.9652); transform-origin: 0px 0px;">Wahlentscheidung erfolgte vor allem aus...</div>
<div class="t" style="left: 72.2px; font-size: 10.12px; color: rgb(51, 51, 51); top: 1998.3px; transform: scaleX(0.8861); transform-origin: 0px 0px;">Überzeugung von meinem Kandidaten</div>
<div class="t" style="left: 72.2px; font-size: 8.25px; color: rgb(51, 51, 51); top: 2024.1px; transform: scaleX(0.9471); transform-origin: 0px 0px;">Harris-Wähler</div>
<div class="t" style="left: 72.2px; font-size: 8.25px; color: rgb(51, 51, 51); top: 2056.7px; transform: scaleX(0.9538); transform-origin: 0px 0px;">Trump-Wähler</div>
<div class="t" style="-webkit-text-stroke: 0px; left: 137.8px; font-size: 10px; font-weight: bold; color: rgb(51, 51, 51); top: 2023px; transform: scaleX(1.0247); transform-origin: 0px 0px;">67</div>
<div class="t" style="-webkit-text-stroke: 0px; left: 137.8px; font-size: 10px; font-weight: bold; color: rgb(51, 51, 51); top: 2055.5px; transform: scaleX(1.0247); transform-origin: 0px 0px;">80</div>
<div class="a" style="left:159.4px;top:2014px;width:312.1px;height:29.6px;background:#0a347e"></div>
<div class="a" style="left:159.4px;top:2047.2px;width:372.8px;height:28.8px;background:#a0001e"></div>
<div class="t" style="left: 72.2px; font-size: 10.12px; color: rgb(51, 51, 51); top: 2096.7px; transform: scaleX(0.8883); transform-origin: 0px 0px;">Ablehnung des anderen Kandidaten</div>
<div class="t" style="left: 72.2px; font-size: 8.25px; color: rgb(51, 51, 51); top: 2122.6px; transform: scaleX(0.9471); transform-origin: 0px 0px;">Harris-Wähler</div>
<div class="t" style="left: 72.2px; font-size: 8.25px; color: rgb(51, 51, 51); top: 2155.6px; transform: scaleX(0.9538); transform-origin: 0px 0px;">Trump-Wähler</div>
<div class="t" style="-webkit-text-stroke: 0px; left: 137.8px; font-size: 10px; font-weight: bold; color: rgb(51, 51, 51); top: 2121.5px; transform: scaleX(1.0247); transform-origin: 0px 0px;">30</div>
<div class="t" style="-webkit-text-stroke: 0px; left: 137.8px; font-size: 10px; font-weight: bold; color: rgb(51, 51, 51); top: 2154.4px; transform: scaleX(1.0247); transform-origin: 0px 0px;">18</div>
<div class="a" style="left:159.4px;top:2112.5px;width:139.9px;height:29.2px;background:#0a347e"></div>
<div class="a" style="left:159.4px;top:2145.5px;width:84.2px;height:29.2px;background:#a0001e"></div>
<div class="t" style="-webkit-text-stroke: 0px; left: 66.5px; font-size: 7.35px; font-weight: bold; color: rgb(31, 61, 115); top: 2185.1px; transform: scaleX(0.8644); transform-origin: 0px 0px;">infratest dimap</div>
<svg class="a" style="left:115.8px;top:2185.1px" width="12" height="11" viewBox="0 0 12 11"><path d="M6 1.2 A4.3 4.3 0 1 1 1.7 5.5" stroke="#b8bcc4" stroke-width="1.8" fill="none"></path><path d="M1.7 5.5 A4.3 4.3 0 0 1 4 1.7" stroke="#1f3d73" stroke-width="1.8" fill="none"></path></svg>
<div class="t" style="left: 267.3px; font-size: 6.93px; color: rgb(51, 51, 51); top: 2186.5px; transform: scaleX(0.9248); transform-origin: 0px 0px;">Stand: &nbsp;06.11.2024, 20:52 Uhr</div>
<div class="t" style="left: 387px; font-size: 6.93px; color: rgb(51, 51, 51); top: 2186.5px; transform: scaleX(0.9041); transform-origin: 0px 0px;">Quelle: NEP/Edison via Reuters</div>
<div class="a" style="left:513.6px;top:2180.5px;width:18.6px;height:19px;border-radius:2px;background:#0a3f96;overflow:hidden"><svg width="18.6" height="19" viewBox="0 0 30 30" preserveAspectRatio="none" style="position:absolute;left:0;top:0"><circle cx="15" cy="15" r="13" fill="url(#lg)"></circle><path d="M3.5 19 Q2 8 12 4 Q22 1 27 9" stroke="#8fd0ff" stroke-width="1.2" fill="none" opacity="0.7"></path><circle cx="14.5" cy="15.4" r="6.3" fill="none" stroke="#fff" stroke-width="2.2"></circle><path d="M12.6 12.3 L15.6 10.8 L15.6 19.8 L13.7 19.8 L13.7 13.6 L12.6 14.1 Z" fill="#fff"></path></svg></div><div class="a" style="left:295.3px;top:2215.2000000000003px;width:9.2px;height:9.2px;border-radius:50%;background:#1c5fa8"></div>
<div class="a" style="left:309.9px;top:2216.9px;width:5.8px;height:5.8px;border-radius:50%;background:#999"></div>
<div class="a" style="left:324.3px;top:2218.4px;width:2.8px;height:2.8px;border-radius:50%;background:#999"></div>

<div class="a" style="left:47.4px;top:2257.4px;width:80.2px;height:80.6px;background:#f0f0f0"></div>
<div class="t" style="-webkit-text-stroke:0;left:49.4px;top:2259.0px;font-size:3.36px;font-weight:bold;color:#333">US-Wahl 2024</div>
<div class="t" style="left:49.4px;top:2263.5px;font-size:4.73px;color:#444">Profil Donald Trump</div>
<div class="a" style="left:81.3px;top:2284.2px;width:44.9px;height:5.4px;background:#a0001e"></div>
<div class="a" style="left:50.0px;top:2286.2px;width:14.1px;height:1.3px;background:#9a9a9a"></div>
<div class="a" style="left:70.8px;top:2285.8px;width:3.2px;height:2px;background:#555"></div>
<div class="a" style="left:77.2px;top:2286.0px;width:2.2px;height:1.5px;background:#aaa"></div>
<div class="a" style="left:81.3px;top:2291.3px;width:39.5px;height:5.4px;background:#a0001e"></div>
<div class="a" style="left:50.0px;top:2293.3px;width:9.1px;height:1.3px;background:#9a9a9a"></div>
<div class="a" style="left:70.8px;top:2292.9px;width:3.2px;height:2px;background:#555"></div>
<div class="a" style="left:77.2px;top:2293.1px;width:2.2px;height:1.5px;background:#aaa"></div>
<div class="a" style="left:81.3px;top:2297.9px;width:37.5px;height:5.4px;background:#a0001e"></div>
<div class="a" style="left:50.0px;top:2299.9px;width:10.1px;height:1.3px;background:#9a9a9a"></div>
<div class="a" style="left:70.8px;top:2299.5px;width:3.2px;height:2px;background:#555"></div>
<div class="a" style="left:77.2px;top:2299.7px;width:2.2px;height:1.5px;background:#aaa"></div>
<div class="a" style="left:81.3px;top:2304.7px;width:31.2px;height:5.4px;background:#a0001e"></div>
<div class="a" style="left:50.0px;top:2306.8px;width:17.7px;height:1.3px;background:#9a9a9a"></div>
<div class="a" style="left:70.8px;top:2306.4px;width:3.2px;height:2px;background:#555"></div>
<div class="a" style="left:77.2px;top:2306.6px;width:2.2px;height:1.5px;background:#aaa"></div>
<div class="a" style="left:81.3px;top:2311.4px;width:28.8px;height:5.4px;background:#a0001e"></div>
<div class="a" style="left:50.0px;top:2313.4px;width:13.1px;height:1.3px;background:#9a9a9a"></div>
<div class="a" style="left:70.8px;top:2313.0px;width:3.2px;height:2px;background:#555"></div>
<div class="a" style="left:77.2px;top:2313.2px;width:2.2px;height:1.5px;background:#aaa"></div>
<div class="a" style="left:75.2px;top:2280.8px;width:3.5px;height:1.2px;background:#aaa"></div>
<div class="a" style="left:49.4px;top:2332.5px;width:14.1px;height:1.6px;background:#4a6aa8"></div>
<div class="a" style="left:63.5px;top:2331.5px;width:2.6px;height:2.6px;border-radius:50%;border:0.6px solid #8a9ab8"></div>
<div class="a" style="left:78.2px;top:2332.1px;width:25.2px;height:1.2px;background:#bbb"></div>
<div class="a" style="left:82.3px;top:2334.4px;width:16.1px;height:1.1px;background:#ccc"></div>
<div class="a" style="left:120.5px;top:2330.5px;width:5.1px;height:5.1px;background:#1a64c0"></div>
<div class="a" style="left:137.9px;top:2263.7px;width:26.6px;height:8.5px;border-radius:1.5px;background:#1c5fa8"></div>
<div class="t" style="-webkit-text-stroke: 0px; left: 141.5px; font-size: 5.57px; font-weight: bold; color: rgb(255, 255, 255); letter-spacing: 0.3px; top: 2265.4px; transform: scaleX(0.8661); transform-origin: 0px 0px;">BILDER</div>
<div class="t" style="left: 137.9px; font-size: 8.8px; color: rgb(51, 51, 51); top: 2275.3px; transform: scaleX(0.9202); transform-origin: 0px 0px;">Infografik</div>
<div class="t" style="-webkit-text-stroke: 0px; left: 137.9px; font-size: 12px; color: rgb(27, 94, 158); top: 2286.8px; transform: scaleX(0.971); transform-origin: 0px 0px;">Wie die USA auf Trump</div>
<div class="t" style="-webkit-text-stroke: 0px; left: 137.9px; font-size: 12px; color: rgb(27, 94, 158); top: 2300.2px; transform: scaleX(0.9968); transform-origin: 0px 0px;">blicken und wer ihn wählte</div>
<div class="a" style="left:309.5px;top:2256.8px;width:81.5px;height:80.8px;background:#e6e6e6"></div>
<div class="a" style="left:336.8px;top:2283.4px;width:27.3px;height:27.6px;border-radius:3px;background:#eeeeee"></div>
<svg class="a" style="left:337.0px;top:2283.8px" width="27" height="27" viewBox="0 0 27 27"><circle cx="13.5" cy="13.5" r="11.8" fill="#fbfbfb"></circle><path d="M4 17 Q8 22 14 23 Q9 18 4 17Z M17 4 Q22 7 24 12 Q20 9 17 4Z" fill="#eeeeee"></path><circle cx="13.5" cy="13.5" r="5.8" fill="none" stroke="#ececec" stroke-width="1.4"></circle><path d="M11.6 11 L14.6 9.6 L14.6 17.5 L12.9 17.5 L12.9 12.2 L11.6 12.8Z" fill="#ececec"></path></svg><div class="a" style="left:400.4px;top:2263.7px;width:26.6px;height:8.5px;border-radius:1.5px;background:#1c5fa8"></div>
<div class="t" style="-webkit-text-stroke: 0px; left: 404px; font-size: 5.57px; font-weight: bold; color: rgb(255, 255, 255); letter-spacing: 0.3px; top: 2265.4px; transform: scaleX(0.8661); transform-origin: 0px 0px;">BILDER</div>
<div class="t" style="left: 400.4px; font-size: 8.8px; color: rgb(51, 51, 51); top: 2275.3px; transform: scaleX(0.9202); transform-origin: 0px 0px;">Infografik</div>
<div class="t" style="-webkit-text-stroke: 0px; left: 400.4px; font-size: 12px; color: rgb(27, 94, 158); top: 2286.8px; transform: scaleX(0.9648); transform-origin: 0px 0px;">Wie die USA auf Harris</div>
<div class="t" style="-webkit-text-stroke: 0px; left: 400.4px; font-size: 12px; color: rgb(27, 94, 158); top: 2300.2px; transform: scaleX(0.9866); transform-origin: 0px 0px;">blicken und wer sie wählte</div>
<div class="a" style="left:46.8px;top:2349.7px;width:81.5px;height:80.8px;background:#e6e6e6"></div>
<div class="a" style="left:74.1px;top:2376.2999999999997px;width:27.3px;height:27.6px;border-radius:3px;background:#eeeeee"></div>
<svg class="a" style="left:74.3px;top:2376.7px" width="27" height="27" viewBox="0 0 27 27"><circle cx="13.5" cy="13.5" r="11.8" fill="#fbfbfb"></circle><path d="M4 17 Q8 22 14 23 Q9 18 4 17Z M17 4 Q22 7 24 12 Q20 9 17 4Z" fill="#eeeeee"></path><circle cx="13.5" cy="13.5" r="5.8" fill="none" stroke="#ececec" stroke-width="1.4"></circle><path d="M11.6 11 L14.6 9.6 L14.6 17.5 L12.9 17.5 L12.9 12.2 L11.6 12.8Z" fill="#ececec"></path></svg><div class="a" style="left:137.9px;top:2356.6px;width:26.6px;height:8.5px;border-radius:1.5px;background:#1c5fa8"></div>
<div class="t" style="-webkit-text-stroke: 0px; left: 141.5px; font-size: 5.57px; font-weight: bold; color: rgb(255, 255, 255); letter-spacing: 0.3px; top: 2358.3px; transform: scaleX(0.8661); transform-origin: 0px 0px;">BILDER</div>
<div class="t" style="left: 137.9px; font-size: 8.8px; color: rgb(51, 51, 51); top: 2368.2px; transform: scaleX(0.9202); transform-origin: 0px 0px;">Infografik</div>
<div class="t" style="-webkit-text-stroke: 0px; left: 137.9px; font-size: 12px; color: rgb(27, 94, 158); top: 2379.7px; transform: scaleX(0.9804); transform-origin: 0px 0px;">Wie Trump und Harris im</div>
<div class="t" style="-webkit-text-stroke: 0px; left: 137.9px; font-size: 12px; color: rgb(27, 94, 158); top: 2393.1px; transform: scaleX(0.9921); transform-origin: 0px 0px;">Vergleich bewertet werden</div>
<div class="a" style="left:309.5px;top:2349.7px;width:81.5px;height:80.8px;background:#e6e6e6"></div>
<div class="a" style="left:336.8px;top:2376.2999999999997px;width:27.3px;height:27.6px;border-radius:3px;background:#eeeeee"></div>
<svg class="a" style="left:337.0px;top:2376.7px" width="27" height="27" viewBox="0 0 27 27"><circle cx="13.5" cy="13.5" r="11.8" fill="#fbfbfb"></circle><path d="M4 17 Q8 22 14 23 Q9 18 4 17Z M17 4 Q22 7 24 12 Q20 9 17 4Z" fill="#eeeeee"></path><circle cx="13.5" cy="13.5" r="5.8" fill="none" stroke="#ececec" stroke-width="1.4"></circle><path d="M11.6 11 L14.6 9.6 L14.6 17.5 L12.9 17.5 L12.9 12.2 L11.6 12.8Z" fill="#ececec"></path></svg><div class="a" style="left:400.4px;top:2356.6px;width:26.6px;height:8.5px;border-radius:1.5px;background:#1c5fa8"></div>
<div class="t" style="-webkit-text-stroke: 0px; left: 404px; font-size: 5.57px; font-weight: bold; color: rgb(255, 255, 255); letter-spacing: 0.3px; top: 2358.3px; transform: scaleX(0.8661); transform-origin: 0px 0px;">BILDER</div>
<div class="t" style="left: 400.4px; font-size: 8.8px; color: rgb(51, 51, 51); top: 2368.2px; transform: scaleX(0.9202); transform-origin: 0px 0px;">Infografik</div>
<div class="t" style="-webkit-text-stroke: 0px; left: 400.4px; font-size: 12px; color: rgb(27, 94, 158); top: 2379.7px; transform: scaleX(0.9577); transform-origin: 0px 0px;">Was die USA bewegt und</div>
<div class="t" style="-webkit-text-stroke: 0px; left: 400.4px; font-size: 12px; color: rgb(27, 94, 158); top: 2393.1px; transform: scaleX(0.8303); transform-origin: 0px 0px;">die Stimmung prägt</div>


<!-- CARD 4 -->
<div class="card" style="top:2450.2px;height:237.6px"></div>
<div class="t" style="-webkit-text-stroke: 0px; left: 133.3px; font-size: 20.8px; color: rgb(27, 94, 158); top: 2471.3px; transform: scaleX(0.8455); transform-origin: 0px 0px;">WAHL DES REPRÄSENTANTENHAUSES</div>
<svg class="a" style="left:0;top:2500px" width="300" height="140" viewBox="0 2500 300 140">
<path d="M154.70 2504.90 A61.2 61.2 0 0 1 163.07 2626.72 L159.98 2604.34 A38.6 38.6 0 0 0 154.70 2527.50Z" fill="#d91e2a"></path>
<path d="M163.07 2626.72 A61.2 61.2 0 0 1 130.21 2622.19 L139.26 2601.48 A38.6 38.6 0 0 0 159.98 2604.34Z" fill="#e3e3e3"></path>
<path d="M130.21 2622.19 A61.2 61.2 0 0 1 154.70 2504.90 L154.70 2527.50 A38.6 38.6 0 0 0 139.26 2601.48Z" fill="#0743c6"></path>
<line x1="154.7" y1="2604.7" x2="154.7" y2="2627.2999999999997" stroke="#333" stroke-width="0.8" stroke-dasharray="1.2 1.2"></line>
<line x1="154.70" y1="2528.50" x2="154.70" y2="2503.90" stroke="#fff" stroke-width="0.8"></line>
<line x1="159.84" y1="2603.35" x2="163.21" y2="2627.72" stroke="#fff" stroke-width="0.8"></line>
<line x1="139.66" y1="2600.56" x2="129.81" y2="2623.10" stroke="#fff" stroke-width="0.8"></line>
</svg>
<div class="t" style="-webkit-text-stroke: 0px; left: 132.6px; font-size: 23px; color: rgb(51, 51, 51); top: 2555px; transform: scaleX(1.1309); transform-origin: 0px 0px;">435</div>
<div class="t" style="left: 137.6px; font-size: 8.36px; color: rgb(51, 51, 51); top: 2636.3px; transform: scaleX(1.0164); transform-origin: 0px 0px;">Mehrheit</div>
<svg class="a" style="left:273.7px;top:2520.7px" width="52.2" height="52.2" viewBox="0 0 52 52"><circle cx="26" cy="26" r="23.4" fill="none" stroke="#0743c6" stroke-width="5.2"></circle><path d="M17.6 15.8 L26.5 15.8 Q36.6 15.8 36.6 26.2 Q36.6 36.7 26.5 36.7 L17.6 36.7Z M23 20.6 L23 31.9 L26 31.9 Q31 31.9 31 26.2 Q31 20.6 26 20.6Z" fill="#0743c6" fill-rule="evenodd"></path></svg>
<svg class="a" style="left:350px;top:2510px" width="100" height="110" viewBox="0 0 422 464"><path d="M165 108 Q168 70 200 70 Q232 70 232 108 Q232 135 208 150 Q186 164 186 192 L186 196" stroke="#c9c9c9" stroke-width="36" fill="none"></path><circle cx="186" cy="228" r="21" fill="#c9c9c9"></circle></svg>
<div class="a" style="left:446.3px;top:2524.8px;width:95.5px;height:43.5px;background:#d8102e"></div>
<div class="t" style="-webkit-text-stroke: 0px; left: 457px; font-size: 27px; font-weight: bold; color: rgb(255, 255, 255); top: 2533.2px; transform: scaleX(1.1164); transform-origin: 0px 0px;">GOP</div>
<div class="a" style="left:523.2px;top:2549.8px;width:8.4px;height:8.4px;border-radius:50%;border:1px solid #fff"></div>
<div class="a" style="left:525.8px;top:2552.4px;width:3.2px;height:3px;border-radius:1.5px 1.5px 0 0;background:#fff"></div>
<div class="a" style="left:252px;top:2579.1px;width:290px;height:1px;background:#e6e6e6"></div>
<div class="a" style="left:252px;top:2607.2px;width:290px;height:1px;background:#e6e6e6"></div>
<div class="t" style="-webkit-text-stroke: 0px; left: 284.4px; font-size: 19px; color: rgb(51, 51, 51); top: 2583.5px; transform: scaleX(0.9715); transform-origin: 0px 0px;">189</div>
<div class="t" style="-webkit-text-stroke: 0px; left: 386.7px; font-size: 19px; color: rgb(51, 51, 51); top: 2583.5px; transform: scaleX(0.9744); transform-origin: 0px 0px;">38</div>
<div class="t" style="-webkit-text-stroke: 0px; left: 478.4px; font-size: 19px; color: rgb(51, 51, 51); top: 2583.5px; transform: scaleX(0.9873); transform-origin: 0px 0px;">208</div>
<div class="t" style="left: 277.7px; font-size: 8.36px; color: rgb(51, 51, 51); top: 2610.8px; transform: scaleX(0.9658); transform-origin: 0px 0px;">Demokraten</div>
<div class="t" style="left: 386.7px; font-size: 8.36px; color: rgb(51, 51, 51); top: 2610.8px; transform: scaleX(0.9918); transform-origin: 0px 0px;">Offen</div>
<div class="t" style="left: 470.7px; font-size: 8.36px; color: rgb(51, 51, 51); top: 2610.8px; transform: scaleX(0.9538); transform-origin: 0px 0px;">Republikaner</div>
<div class="a" style="left:57px;top:2653.3px;width:485.5px;height:1px;background:#ececec"></div>
<div class="a" style="left:56.8px;top:2661.2px;width:26.6px;height:12.9px;border-radius:1px;background:#1c5fa8"></div>
<div class="a" style="left:87.2px;top:2661.2px;width:26.5px;height:12.9px;border-radius:1px;background:#e6e6e6"></div>
<div class="a" style="left:117.5px;top:2661.2px;width:26.5px;height:12.9px;border-radius:1px;background:#e6e6e6"></div>
<div class="a" style="left:147.8px;top:2661.2px;width:26.6px;height:12.9px;border-radius:1px;background:#e6e6e6"></div>
<div class="a" style="left:178.2px;top:2661.2px;width:26.5px;height:12.9px;border-radius:1px;background:#e6e6e6"></div>
<div class="t" style="left: 62px; font-size: 8.14px; color: rgb(255, 255, 255); top: 2663.6px; transform: scaleX(0.8961); transform-origin: 0px 0px;">2024</div>
<div class="t" style="left: 92.4px; font-size: 8.14px; color: rgb(51, 51, 51); top: 2663.6px; transform: scaleX(0.8961); transform-origin: 0px 0px;">2022</div>
<div class="t" style="left: 122.7px; font-size: 8.14px; color: rgb(51, 51, 51); top: 2663.6px; transform: scaleX(0.8961); transform-origin: 0px 0px;">2020</div>
<div class="t" style="left: 153px; font-size: 8.14px; color: rgb(51, 51, 51); top: 2663.6px; transform: scaleX(0.8961); transform-origin: 0px 0px;">2018</div>
<div class="t" style="left: 183.4px; font-size: 8.14px; color: rgb(51, 51, 51); top: 2663.6px; transform: scaleX(0.8961); transform-origin: 0px 0px;">2016</div>
<div class="t" style="left: 451px; font-size: 8.03px; color: rgb(51, 51, 51); top: 2662.3px; transform: scaleX(0.8045); transform-origin: 0px 0px;">Quelle: NEP/Edison via Reuters</div>

<!-- CARD 5 -->
<div class="card" style="top:2695.9px;height:192.2px"></div>
<div class="t" style="-webkit-text-stroke: 0px; left: 219px; font-size: 20.8px; color: rgb(27, 94, 158); top: 2718px; transform: scaleX(0.8353); transform-origin: 0px 0px;">WAHL DES SENATS</div>

<!-- CARD 6 -->
<div class="card" style="top:2895.9px;height:265.1px"></div>
<div class="t" style="-webkit-text-stroke: 0px; left: 132.2px; font-size: 12.9px; color: rgb(27, 94, 158); top: 2911.2px; transform: scaleX(0.9624); transform-origin: 0px 0px;">Ergebnisse der Senatswahl in den Bundesstaaten</div>
<div class="t" style="left: 132.1px; font-size: 10.2px; top: 2935.3px; transform: scaleX(0.9523); transform-origin: 0px 0px;">Etwa ein Drittel der 100 Senatssitze wird alle zwei Jahre neu gewählt. Jeder</div>
<div class="t" style="left: 132.1px; font-size: 10.2px; top: 2948.1px; transform: scaleX(0.9547); transform-origin: 0px 0px;">Bundesstaat entsendet zwei Senatorinnen oder Senatoren in diese</div>
<div class="t" style="left: 132.1px; font-size: 10.2px; top: 2960.9px; transform: scaleX(0.9543); transform-origin: 0px 0px;">Kongresskammer. Die Mehrheitsverhältnisse im Senat spielen für die</div>
<div class="t" style="left: 132.1px; font-size: 10.2px; top: 2973.7px; transform: scaleX(0.9483); transform-origin: 0px 0px;">jeweilige Präsidentschaft eine große Rolle bei vielen</div>
<div class="t" style="left: 132.1px; font-size: 10.2px; top: 2986.5px; transform: scaleX(0.937); transform-origin: 0px 0px;">Gesetzgebungsvorhaben. Wie sehen die Ergebnisse der Wahlen um die</div>
<div class="t" style="left: 132.1px; font-size: 10.2px; top: 2999.3px; transform: scaleX(0.9361); transform-origin: 0px 0px;">Senatssitze 2024 in den Bundesstaaten aus?</div>

<!-- CARD 7 -->
<div class="card" style="top:3168.9px;height:191.9px"></div>
<div class="t" style="-webkit-text-stroke: 0px; left: 195.4px; font-size: 20.8px; color: rgb(27, 94, 158); top: 3192px; transform: scaleX(0.8652); transform-origin: 0px 0px;">WAHLEN IM RÜCKBLICK</div>

<!-- FOOTER -->
<div class="card" style="top:3368.6px;height:271.6px"></div>
<div class="a" style="left:46.8px;top:3388.3px;width:505.5px;height:1px;background:#ebebeb"></div>
<div class="a" style="left:46.8px;top:3409.2px;width:505.5px;height:1px;background:#ebebeb"></div>
<div class="a" style="left:46.8px;top:3430px;width:505.5px;height:1px;background:#ebebeb"></div>
<div class="a" style="left:46.8px;top:3450.9px;width:505.5px;height:1px;background:#ebebeb"></div>
<div class="a" style="left:46.8px;top:3471.8px;width:505.5px;height:1px;background:#ebebeb"></div>
<div class="t" style="-webkit-text-stroke: 0px; left: 57.1px; font-size: 8.82px; font-weight: bold; color: rgb(51, 51, 51); top: 3394px; transform: scaleX(0.8797); transform-origin: 0px 0px;">Service</div>
<div class="t" style="-webkit-text-stroke: 0px; left: 57.1px; font-size: 8.82px; font-weight: bold; color: rgb(51, 51, 51); top: 3414.8px; transform: scaleX(0.9162); transform-origin: 0px 0px;">tagesschau.de</div>
<div class="t" style="-webkit-text-stroke: 0px; left: 57.1px; font-size: 8.82px; font-weight: bold; color: rgb(51, 51, 51); top: 3435.7px; transform: scaleX(0.9311); transform-origin: 0px 0px;">ARD Angebote</div>
<div class="t" style="-webkit-text-stroke: 0px; left: 57.1px; font-size: 8.82px; font-weight: bold; color: rgb(51, 51, 51); top: 3456.2px; transform: scaleX(0.9547); transform-origin: 0px 0px;">Rundfunkanstalten</div>
<svg class="a" style="left:538px;top:3394.9px" width="12.5" height="7" viewBox="0 0 12.5 7"><path d="M0.7 0.7 L6.25 6 L11.8 0.7" stroke="#555" stroke-width="0.9" fill="none"></path></svg>
<svg class="a" style="left:538px;top:3415.5px" width="12.5" height="7" viewBox="0 0 12.5 7"><path d="M0.7 0.7 L6.25 6 L11.8 0.7" stroke="#555" stroke-width="0.9" fill="none"></path></svg>
<svg class="a" style="left:538px;top:3436.2px" width="12.5" height="7" viewBox="0 0 12.5 7"><path d="M0.7 0.7 L6.25 6 L11.8 0.7" stroke="#555" stroke-width="0.9" fill="none"></path></svg>
<svg class="a" style="left:538px;top:3456.8px" width="12.5" height="7" viewBox="0 0 12.5 7"><path d="M0.7 0.7 L6.25 6 L11.8 0.7" stroke="#555" stroke-width="0.9" fill="none"></path></svg>
<div class="t" style="left: 58.2px; font-size: 9.24px; color: rgb(51, 51, 51); top: 3481.7px; transform: scaleX(0.9546); transform-origin: 0px 0px;">Impressum</div>
<div class="t" style="left: 58.2px; font-size: 9.24px; color: rgb(51, 51, 51); top: 3503.7px; transform: scaleX(0.9156); transform-origin: 0px 0px;">So erreichen Sie uns</div>
<div class="t" style="left: 58.2px; font-size: 9.24px; color: rgb(51, 51, 51); top: 3525.3px; transform: scaleX(0.9707); transform-origin: 0px 0px;">Datenschutzerklärung</div>
<div class="t" style="left: 58.2px; font-size: 9.24px; color: rgb(51, 51, 51); top: 3547.3px; transform: scaleX(0.9689); transform-origin: 0px 0px;">Bildrechte</div>
<div class="t" style="left: 469px; font-size: 7.26px; color: rgb(51, 51, 51); top: 3620.3px; transform: scaleX(0.8413); transform-origin: 0px 0px;">Wir sind deins.</div>
<div class="t" style="-webkit-text-stroke: 0px; left: 509.8px; font-size: 11.5px; font-weight: bold; color: rgb(51, 51, 51); top: 3617.3px; transform: scaleX(0.951); transform-origin: 0px 0px;">ARD</div>
<svg class="a" style="left:534px;top:3614.7px" width="17.3" height="17.3" viewBox="0 0 20 20"><path d="M10 1.3 A8.7 8.7 0 1 1 1.5 11.5" stroke="#333" stroke-width="2.4" fill="none"></path><path d="M6 6.5 L11.5 3.8 L12.8 3.8 L12.8 16 L9.6 16 L9.6 8 L7 9.2Z" fill="#333"></path></svg>
<div class="a" style="left:27.5px;top:3640.2px;width:545px;height:19.8px;background:#e2e2e2"></div>
<div class="t" style="left: 47.1px; font-size: 6.38px; color: rgb(154, 154, 154); top: 3643px; transform: scaleX(0.9319); transform-origin: 0px 0px;">© ARD-aktuell / tagesschau.de</div>

</body></html>
